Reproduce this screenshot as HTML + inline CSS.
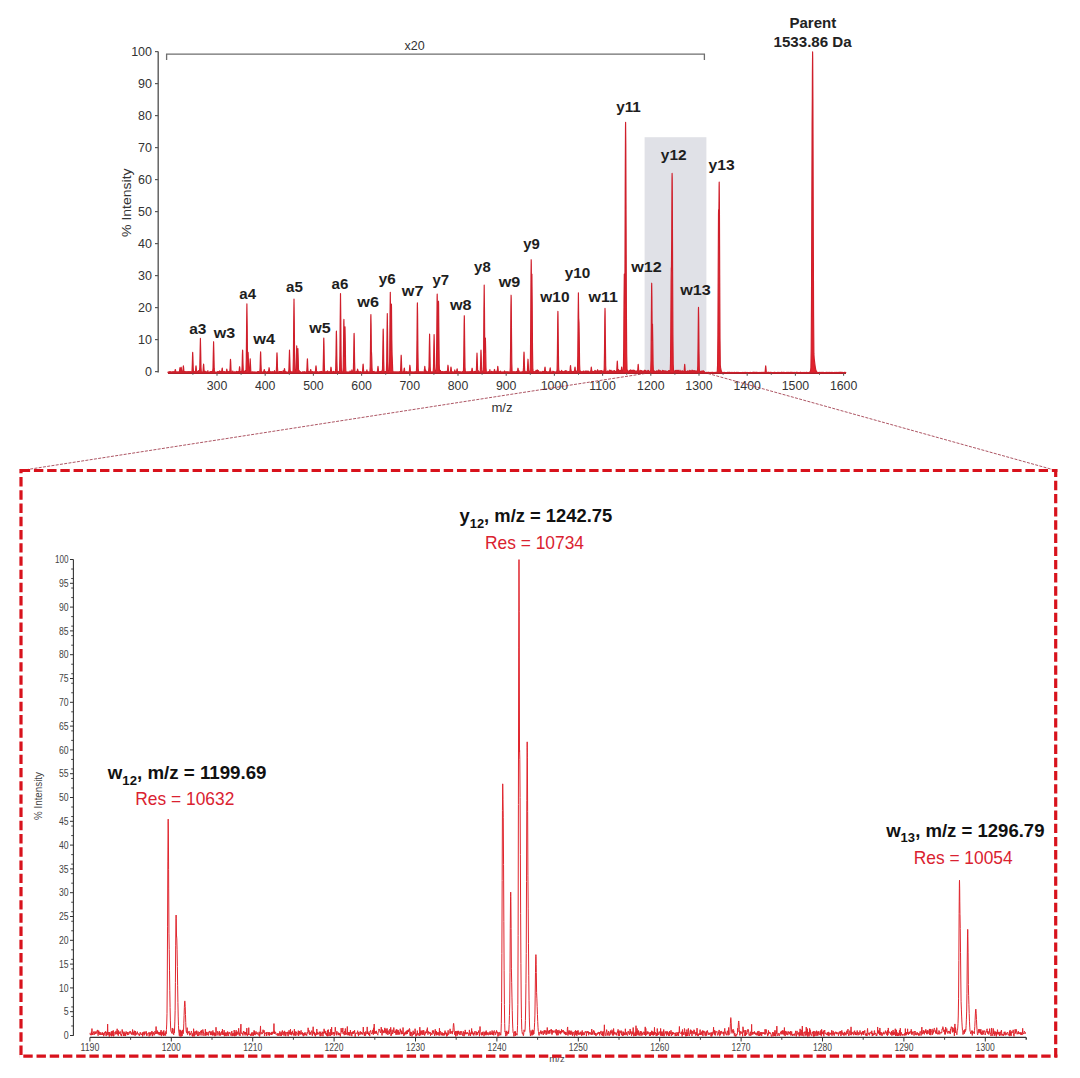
<!DOCTYPE html><html><head><meta charset="utf-8"><style>html,body{margin:0;padding:0;background:#fff;}svg{display:block;}text{font-family:"Liberation Sans",sans-serif;}</style></head><body>
<svg width="1080" height="1078" viewBox="0 0 1080 1078">
<rect width="1080" height="1078" fill="#fff"/>
<rect x="644.6" y="137.2" width="61.8" height="235.3" fill="#e0e1e7"/>
<line x1="158.2" y1="51.5" x2="158.2" y2="372.6" stroke="#5a5a5a" stroke-width="1.4"/>
<line x1="155" y1="371.60" x2="158.2" y2="371.60" stroke="#5a5a5a" stroke-width="1.2"/>
<text x="152" y="375.90" font-size="12.5" fill="#333" text-anchor="end">0</text>
<line x1="155" y1="339.60" x2="158.2" y2="339.60" stroke="#5a5a5a" stroke-width="1.2"/>
<text x="152" y="343.90" font-size="12.5" fill="#333" text-anchor="end">10</text>
<line x1="155" y1="307.60" x2="158.2" y2="307.60" stroke="#5a5a5a" stroke-width="1.2"/>
<text x="152" y="311.90" font-size="12.5" fill="#333" text-anchor="end">20</text>
<line x1="155" y1="275.60" x2="158.2" y2="275.60" stroke="#5a5a5a" stroke-width="1.2"/>
<text x="152" y="279.90" font-size="12.5" fill="#333" text-anchor="end">30</text>
<line x1="155" y1="243.60" x2="158.2" y2="243.60" stroke="#5a5a5a" stroke-width="1.2"/>
<text x="152" y="247.90" font-size="12.5" fill="#333" text-anchor="end">40</text>
<line x1="155" y1="211.60" x2="158.2" y2="211.60" stroke="#5a5a5a" stroke-width="1.2"/>
<text x="152" y="215.90" font-size="12.5" fill="#333" text-anchor="end">50</text>
<line x1="155" y1="179.60" x2="158.2" y2="179.60" stroke="#5a5a5a" stroke-width="1.2"/>
<text x="152" y="183.90" font-size="12.5" fill="#333" text-anchor="end">60</text>
<line x1="155" y1="147.60" x2="158.2" y2="147.60" stroke="#5a5a5a" stroke-width="1.2"/>
<text x="152" y="151.90" font-size="12.5" fill="#333" text-anchor="end">70</text>
<line x1="155" y1="115.60" x2="158.2" y2="115.60" stroke="#5a5a5a" stroke-width="1.2"/>
<text x="152" y="119.90" font-size="12.5" fill="#333" text-anchor="end">80</text>
<line x1="155" y1="83.60" x2="158.2" y2="83.60" stroke="#5a5a5a" stroke-width="1.2"/>
<text x="152" y="87.90" font-size="12.5" fill="#333" text-anchor="end">90</text>
<line x1="155" y1="51.60" x2="158.2" y2="51.60" stroke="#5a5a5a" stroke-width="1.2"/>
<text x="152" y="55.90" font-size="12.5" fill="#333" text-anchor="end">100</text>
<line x1="168" y1="373.3" x2="846" y2="373.3" stroke="#a5202b" stroke-width="1.4"/>
<line x1="192.90" y1="372.5" x2="192.90" y2="374.8" stroke="#5a5a5a" stroke-width="1"/>
<line x1="217.00" y1="372.5" x2="217.00" y2="375.8" stroke="#5a5a5a" stroke-width="1.1"/>
<text x="217.00" y="390" font-size="12.3" fill="#333" text-anchor="middle">300</text>
<line x1="241.10" y1="372.5" x2="241.10" y2="374.8" stroke="#5a5a5a" stroke-width="1"/>
<line x1="265.20" y1="372.5" x2="265.20" y2="375.8" stroke="#5a5a5a" stroke-width="1.1"/>
<text x="265.20" y="390" font-size="12.3" fill="#333" text-anchor="middle">400</text>
<line x1="289.30" y1="372.5" x2="289.30" y2="374.8" stroke="#5a5a5a" stroke-width="1"/>
<line x1="313.40" y1="372.5" x2="313.40" y2="375.8" stroke="#5a5a5a" stroke-width="1.1"/>
<text x="313.40" y="390" font-size="12.3" fill="#333" text-anchor="middle">500</text>
<line x1="337.50" y1="372.5" x2="337.50" y2="374.8" stroke="#5a5a5a" stroke-width="1"/>
<line x1="361.60" y1="372.5" x2="361.60" y2="375.8" stroke="#5a5a5a" stroke-width="1.1"/>
<text x="361.60" y="390" font-size="12.3" fill="#333" text-anchor="middle">600</text>
<line x1="385.70" y1="372.5" x2="385.70" y2="374.8" stroke="#5a5a5a" stroke-width="1"/>
<line x1="409.80" y1="372.5" x2="409.80" y2="375.8" stroke="#5a5a5a" stroke-width="1.1"/>
<text x="409.80" y="390" font-size="12.3" fill="#333" text-anchor="middle">700</text>
<line x1="433.90" y1="372.5" x2="433.90" y2="374.8" stroke="#5a5a5a" stroke-width="1"/>
<line x1="458.00" y1="372.5" x2="458.00" y2="375.8" stroke="#5a5a5a" stroke-width="1.1"/>
<text x="458.00" y="390" font-size="12.3" fill="#333" text-anchor="middle">800</text>
<line x1="482.10" y1="372.5" x2="482.10" y2="374.8" stroke="#5a5a5a" stroke-width="1"/>
<line x1="506.20" y1="372.5" x2="506.20" y2="375.8" stroke="#5a5a5a" stroke-width="1.1"/>
<text x="506.20" y="390" font-size="12.3" fill="#333" text-anchor="middle">900</text>
<line x1="530.30" y1="372.5" x2="530.30" y2="374.8" stroke="#5a5a5a" stroke-width="1"/>
<line x1="554.40" y1="372.5" x2="554.40" y2="375.8" stroke="#5a5a5a" stroke-width="1.1"/>
<text x="554.40" y="390" font-size="12.3" fill="#333" text-anchor="middle">1000</text>
<line x1="578.50" y1="372.5" x2="578.50" y2="374.8" stroke="#5a5a5a" stroke-width="1"/>
<line x1="602.60" y1="372.5" x2="602.60" y2="375.8" stroke="#5a5a5a" stroke-width="1.1"/>
<text x="602.60" y="390" font-size="12.3" fill="#333" text-anchor="middle">1100</text>
<line x1="626.70" y1="372.5" x2="626.70" y2="374.8" stroke="#5a5a5a" stroke-width="1"/>
<line x1="650.80" y1="372.5" x2="650.80" y2="375.8" stroke="#5a5a5a" stroke-width="1.1"/>
<text x="650.80" y="390" font-size="12.3" fill="#333" text-anchor="middle">1200</text>
<line x1="674.90" y1="372.5" x2="674.90" y2="374.8" stroke="#5a5a5a" stroke-width="1"/>
<line x1="699.00" y1="372.5" x2="699.00" y2="375.8" stroke="#5a5a5a" stroke-width="1.1"/>
<text x="699.00" y="390" font-size="12.3" fill="#333" text-anchor="middle">1300</text>
<line x1="723.10" y1="372.5" x2="723.10" y2="374.8" stroke="#5a5a5a" stroke-width="1"/>
<line x1="747.20" y1="372.5" x2="747.20" y2="375.8" stroke="#5a5a5a" stroke-width="1.1"/>
<text x="747.20" y="390" font-size="12.3" fill="#333" text-anchor="middle">1400</text>
<line x1="771.30" y1="372.5" x2="771.30" y2="374.8" stroke="#5a5a5a" stroke-width="1"/>
<line x1="795.40" y1="372.5" x2="795.40" y2="375.8" stroke="#5a5a5a" stroke-width="1.1"/>
<text x="795.40" y="390" font-size="12.3" fill="#333" text-anchor="middle">1500</text>
<line x1="819.50" y1="372.5" x2="819.50" y2="374.8" stroke="#5a5a5a" stroke-width="1"/>
<line x1="843.60" y1="372.5" x2="843.60" y2="375.8" stroke="#5a5a5a" stroke-width="1.1"/>
<text x="843.60" y="390" font-size="12.3" fill="#333" text-anchor="middle">1600</text>
<text x="491.4" y="411.8" font-size="13" fill="#333" textLength="21.2" lengthAdjust="spacingAndGlyphs">m/z</text>
<text transform="translate(131.3 236.9) rotate(-90)" font-size="12" fill="#333" textLength="68.5" lengthAdjust="spacingAndGlyphs">% Intensity</text>
<path d="M166.6 60 L166.6 54.1 L704.4 54.1 L704.4 60" fill="none" stroke="#6e6e6e" stroke-width="1.3"/>
<text x="414.6" y="49.9" font-size="12.5" fill="#333" text-anchor="middle">x20</text>
<line x1="645" y1="373.5" x2="21" y2="470.5" stroke="#9e3848" stroke-width="0.85" stroke-dasharray="3 1.3"/>
<line x1="708" y1="373.5" x2="1056" y2="470.5" stroke="#9e3848" stroke-width="0.85" stroke-dasharray="3 1.3"/>
<path d="M168.00 372.13L168.30 371.88L168.60 372.48L168.90 372.54L169.20 372.20L169.50 371.98L169.80 371.59L170.10 371.50L170.40 372.33L170.70 372.31L171.00 371.87L171.30 372.33L171.60 371.86L171.90 372.14L172.20 371.91L172.50 372.00L172.80 371.85L173.10 371.59L173.40 372.41L173.70 371.98L174.00 371.75L174.30 371.78L174.60 371.66L174.90 371.46L175.20 369.69L175.30 369.50L175.50 370.19L175.80 371.95L176.10 372.49L176.40 372.29L176.70 371.82L177.00 372.07L177.30 371.84L177.60 372.04L177.90 372.08L178.20 372.57L178.50 371.74L178.80 371.94L179.10 371.55L179.40 371.72L179.70 369.80L180.00 367.70L180.30 369.80L180.60 372.02L180.90 369.51L181.20 367.20L181.50 369.51L181.80 371.73L182.10 372.12L182.40 372.32L182.70 371.91L183.00 370.05L183.30 366.20L183.40 365.80L183.60 367.28L183.90 371.13L184.20 372.26L184.50 371.47L184.80 371.93L185.10 371.59L185.40 372.35L185.70 371.86L186.00 371.58L186.30 372.35L186.60 372.05L186.90 371.84L187.20 371.64L187.50 371.79L187.80 372.03L188.10 371.56L188.40 371.79L188.70 372.11L189.00 372.10L189.30 371.68L189.60 371.89L189.90 372.33L190.20 371.51L190.50 371.81L190.80 372.43L191.10 371.92L191.40 371.89L191.70 371.83L192.00 371.36L192.30 364.49L192.60 353.52L192.70 352.40L192.90 356.52L193.20 367.74L193.50 372.07L193.80 371.91L194.10 372.12L194.40 371.56L194.70 372.09L195.00 371.96L195.30 371.61L195.60 370.05L195.90 366.20L196.00 365.80L196.20 367.28L196.50 371.13L196.80 371.75L197.10 372.02L197.40 371.53L197.70 372.41L198.00 372.10L198.30 370.55L198.60 372.02L198.90 372.16L199.20 371.65L199.50 370.07L199.80 367.51L200.10 351.36L200.40 338.40L200.70 351.36L201.00 367.51L201.30 372.05L201.60 372.48L201.90 372.16L202.20 371.98L202.50 372.09L202.80 372.42L203.10 370.72L203.40 365.86L203.60 364.00L203.70 364.51L204.00 369.35L204.30 372.16L204.60 371.69L204.90 371.92L205.20 371.28L205.50 371.90L205.80 372.37L206.10 372.00L206.40 371.78L206.70 372.03L207.00 372.05L207.30 372.19L207.60 371.53L207.90 370.67L208.20 372.00L208.50 372.41L208.80 372.53L209.10 372.36L209.40 372.10L209.70 371.78L210.00 371.96L210.30 371.58L210.60 372.24L210.90 371.60L211.20 372.20L211.50 371.97L211.80 371.74L212.10 371.29L212.40 372.14L212.70 371.60L213.00 368.15L213.30 353.57L213.60 341.70L213.90 353.57L214.20 368.15L214.50 372.21L214.80 371.61L215.10 372.02L215.40 372.19L215.70 372.39L216.00 372.38L216.30 372.20L216.60 372.03L216.90 372.11L217.20 372.41L217.50 371.58L217.80 371.80L218.10 372.23L218.40 371.55L218.70 372.05L219.00 372.15L219.30 371.98L219.60 370.81L219.90 372.20L220.20 372.22L220.50 372.60L220.80 371.38L221.10 371.82L221.40 371.57L221.70 371.63L222.00 369.01L222.20 368.00L222.30 368.28L222.60 370.90L222.90 371.95L223.20 371.47L223.50 371.89L223.80 371.87L224.10 371.70L224.40 372.11L224.70 371.64L225.00 371.97L225.30 372.16L225.60 372.19L225.90 371.71L226.20 372.14L226.50 370.55L226.80 369.00L227.10 370.55L227.40 372.03L227.70 372.51L228.00 371.62L228.30 371.70L228.60 372.38L228.90 371.58L229.20 371.84L229.50 371.87L229.80 371.87L230.10 367.44L230.40 360.06L230.50 359.30L230.70 362.10L231.00 369.57L231.30 372.30L231.60 371.91L231.90 372.49L232.20 372.15L232.50 371.97L232.80 371.04L233.10 371.88L233.40 372.13L233.70 372.02L234.00 372.49L234.30 371.89L234.60 371.77L234.90 372.44L235.20 372.22L235.50 371.84L235.80 372.35L236.10 372.34L236.40 371.42L236.70 372.41L237.00 371.58L237.30 372.13L237.60 371.90L237.90 371.87L238.20 371.49L238.50 372.11L238.80 372.04L239.10 371.34L239.40 367.99L239.60 366.70L239.70 367.05L240.00 370.40L240.30 371.98L240.60 371.78L240.90 372.35L241.20 371.35L241.50 371.79L241.80 371.82L242.10 367.06L242.40 354.56L242.60 350.00L242.70 351.24L243.00 363.41L243.30 371.17L243.60 372.08L243.90 372.32L244.20 371.59L244.50 372.24L244.80 372.32L245.10 370.67L245.40 372.25L245.70 371.70L246.00 370.74L246.30 358.79L246.60 326.60L246.90 303.90L247.20 326.60L247.50 358.79L247.80 360.51L248.10 352.40L248.40 360.51L248.70 370.01L249.00 371.36L249.30 372.02L249.60 370.97L249.90 364.55L250.20 358.90L250.50 364.55L250.80 370.97L251.10 372.00L251.40 372.37L251.70 372.10L252.00 372.38L252.30 371.97L252.60 371.77L252.90 372.35L253.20 371.94L253.50 372.38L253.80 372.11L254.10 372.14L254.40 371.81L254.70 372.18L255.00 372.21L255.30 372.15L255.60 372.00L255.90 372.25L256.20 372.41L256.50 372.16L256.80 372.18L257.10 372.06L257.40 372.42L257.70 371.56L258.00 371.82L258.30 371.54L258.60 371.65L258.90 372.01L259.20 372.04L259.50 372.09L259.80 371.93L260.10 367.60L260.40 356.11L260.60 351.90L260.70 353.04L261.00 364.26L261.30 371.32L261.60 371.94L261.90 371.95L262.20 372.40L262.50 372.15L262.80 371.74L263.10 371.99L263.40 371.76L263.70 371.49L264.00 370.84L264.30 369.50L264.60 370.84L264.90 372.17L265.20 371.71L265.50 371.50L265.80 372.05L266.10 372.11L266.40 372.51L266.70 371.92L267.00 372.44L267.30 371.97L267.60 371.59L267.90 372.40L268.20 371.74L268.50 371.53L268.80 369.80L269.10 367.70L269.40 369.80L269.70 371.77L270.00 372.28L270.30 372.11L270.60 372.08L270.90 371.49L271.20 372.13L271.50 371.99L271.80 372.23L272.10 371.65L272.40 372.19L272.70 371.77L273.00 372.03L273.30 372.29L273.60 371.87L273.90 371.72L274.20 372.02L274.50 370.55L274.80 371.74L275.10 372.06L275.40 371.85L275.70 372.37L276.00 371.97L276.30 371.40L276.60 364.66L276.90 353.90L277.00 352.80L277.20 356.84L277.50 367.85L277.80 371.79L278.10 372.39L278.40 372.38L278.70 371.84L279.00 372.11L279.30 371.61L279.60 371.54L279.90 371.77L280.20 371.55L280.50 372.27L280.80 371.53L281.10 372.13L281.40 371.57L281.70 371.79L282.00 372.26L282.30 372.12L282.60 372.13L282.90 371.76L283.20 370.70L283.50 371.64L283.80 372.02L284.10 371.12L284.40 368.84L284.50 368.60L284.70 369.48L285.00 371.76L285.30 372.21L285.60 372.24L285.90 371.61L286.20 371.94L286.50 371.98L286.80 372.31L287.10 372.44L287.40 372.23L287.70 372.20L288.00 371.92L288.30 372.53L288.60 371.96L288.90 369.62L289.20 358.98L289.50 350.00L289.80 358.98L290.10 369.62L290.40 371.99L290.70 371.98L291.00 371.71L291.30 371.90L291.60 371.94L291.90 372.21L292.20 372.22L292.50 372.01L292.80 372.19L293.10 370.44L293.40 357.25L293.70 322.86L294.00 299.00L294.30 322.86L294.60 357.25L294.90 370.44L295.20 372.01L295.50 371.91L295.80 371.79L296.10 368.92L296.40 356.33L296.70 345.90L297.00 356.33L297.30 368.92L297.60 358.08L297.90 348.60L298.20 358.08L298.50 369.39L298.80 372.03L299.10 370.26L299.40 372.35L299.70 371.94L300.00 372.11L300.30 371.64L300.60 372.11L300.90 372.23L301.20 372.27L301.50 372.36L301.80 372.36L302.10 372.19L302.40 372.39L302.70 371.83L303.00 372.26L303.30 371.82L303.60 372.06L303.90 372.25L304.20 371.83L304.50 371.90L304.80 371.63L305.10 371.91L305.40 372.25L305.70 372.36L306.00 372.10L306.30 372.04L306.60 371.80L306.90 369.47L307.20 361.78L307.40 358.90L307.50 359.69L307.80 367.27L308.10 371.84L308.40 371.64L308.70 371.72L309.00 371.47L309.30 371.64L309.60 371.81L309.90 372.37L310.20 371.95L310.50 370.19L310.70 369.50L310.80 369.69L311.10 371.46L311.40 371.51L311.70 372.41L312.00 371.85L312.30 372.10L312.60 371.49L312.90 372.25L313.20 372.01L313.50 372.38L313.80 371.82L314.10 371.78L314.40 372.16L314.70 371.78L315.00 372.25L315.30 371.90L315.60 370.05L315.90 366.20L316.00 365.80L316.20 367.28L316.50 371.13L316.80 371.82L317.10 371.97L317.40 371.63L317.70 372.04L318.00 371.98L318.30 371.87L318.60 372.05L318.90 372.02L319.20 372.41L319.50 372.23L319.80 371.56L320.10 372.33L320.40 371.60L320.70 371.98L321.00 371.76L321.30 371.58L321.60 371.45L321.90 372.55L322.20 372.27L322.50 371.87L322.80 372.05L323.10 370.00L323.40 357.74L323.70 339.78L323.80 338.00L324.00 344.59L324.30 363.36L324.60 371.42L324.90 371.82L325.20 371.91L325.50 371.78L325.80 371.78L326.10 371.74L326.40 371.77L326.70 371.64L327.00 371.88L327.30 371.83L327.60 370.92L327.90 372.07L328.20 371.89L328.50 371.90L328.80 372.07L329.10 371.57L329.40 372.05L329.70 372.28L330.00 371.82L330.30 371.89L330.60 370.59L330.90 367.52L331.00 367.20L331.20 368.38L331.50 371.45L331.80 372.37L332.10 372.08L332.40 372.38L332.70 371.72L333.00 371.89L333.30 371.40L333.60 371.56L333.90 372.03L334.20 372.18L334.50 371.72L334.80 371.99L335.10 372.39L335.40 371.86L335.70 369.17L336.00 354.19L336.30 333.07L336.40 331.00L336.60 338.67L336.90 360.96L337.20 371.00L337.50 371.64L337.80 372.47L338.10 371.43L338.40 372.47L338.70 371.77L339.00 371.82L339.30 372.36L339.60 370.06L339.90 355.43L340.20 318.61L340.50 293.50L340.80 318.61L341.10 355.43L341.40 370.06L341.70 372.15L342.00 372.47L342.30 372.07L342.60 371.88L342.90 372.13L343.20 367.55L343.50 347.94L343.80 321.90L343.90 319.40L344.10 328.70L344.40 356.60L344.70 343.36L345.00 326.80L345.30 343.36L345.60 364.99L345.90 371.79L346.20 371.99L346.50 372.30L346.80 371.92L347.10 372.35L347.40 372.15L347.70 372.14L348.00 371.88L348.30 372.52L348.60 372.30L348.90 372.06L349.20 372.17L349.50 372.08L349.80 371.79L350.10 370.96L350.40 372.00L350.70 372.40L351.00 371.89L351.30 372.29L351.60 371.75L351.90 369.93L352.20 372.36L352.50 371.87L352.80 371.58L353.10 372.32L353.40 369.46L353.70 355.37L354.00 335.27L354.10 333.30L354.30 340.62L354.60 361.77L354.90 371.15L355.20 371.87L355.50 372.05L355.80 371.88L356.10 372.09L356.40 371.56L356.70 372.32L357.00 371.66L357.30 370.55L357.60 369.00L357.90 370.55L358.20 371.73L358.50 371.37L358.80 371.54L359.10 371.98L359.40 371.86L359.70 372.02L360.00 371.79L360.30 372.30L360.60 371.64L360.90 372.16L361.20 372.36L361.50 372.22L361.80 372.07L362.10 372.01L362.40 372.17L362.70 369.39L363.00 364.60L363.10 364.10L363.30 365.93L363.60 370.74L363.90 372.16L364.20 372.46L364.50 371.82L364.80 372.22L365.10 372.41L365.40 371.85L365.70 372.16L366.00 371.63L366.30 371.99L366.60 371.55L366.90 369.87L367.20 371.77L367.50 371.60L367.80 371.79L368.10 372.03L368.40 372.28L368.70 371.99L369.00 371.77L369.30 372.16L369.60 371.94L369.90 372.07L370.20 366.78L370.50 345.23L370.80 317.26L370.90 314.60L371.10 324.53L371.40 353.52L371.50 352.40L371.70 356.52L372.00 367.74L372.30 371.67L372.60 371.81L372.90 371.63L373.20 372.21L373.50 371.68L373.80 371.62L374.10 371.42L374.40 372.44L374.70 372.03L375.00 372.09L375.30 371.96L375.60 372.26L375.90 372.35L376.20 371.91L376.50 371.97L376.80 372.11L377.10 371.85L377.40 371.91L377.70 368.98L378.00 366.30L378.30 368.98L378.60 371.91L378.90 372.22L379.20 371.70L379.50 372.09L379.80 371.81L380.10 371.51L380.40 372.44L380.70 371.70L381.00 371.87L381.30 371.22L381.60 372.27L381.90 372.24L382.20 371.49L382.50 368.92L382.80 353.14L383.10 331.14L383.20 329.00L383.40 336.96L383.70 360.24L384.00 370.87L384.30 371.84L384.60 372.32L384.90 371.82L385.20 372.23L385.50 371.51L385.80 371.66L386.10 372.49L386.40 371.25L386.70 361.59L387.00 333.77L387.30 313.50L387.60 333.77L387.90 361.59L388.20 371.25L388.50 371.63L388.80 371.96L389.10 372.32L389.40 369.97L389.70 355.02L390.00 317.67L390.30 292.30L390.60 317.67L390.90 350.10L391.20 315.21L391.40 304.00L391.50 306.99L391.80 338.99L392.10 354.70L392.40 361.95L392.70 370.36L393.00 371.87L393.30 372.38L393.60 372.19L393.90 371.94L394.20 371.91L394.50 371.87L394.80 372.18L395.10 371.92L395.40 372.15L395.70 372.01L396.00 371.77L396.30 371.77L396.60 372.37L396.90 372.43L397.20 371.73L397.50 371.91L397.80 372.26L398.10 372.39L398.40 371.94L398.70 372.14L399.00 372.29L399.30 371.69L399.60 371.70L399.90 371.81L400.20 371.91L400.50 371.58L400.80 365.71L401.10 356.18L401.20 355.20L401.40 358.80L401.70 368.51L402.00 371.66L402.30 371.95L402.60 372.06L402.90 372.53L403.20 371.68L403.50 371.98L403.80 371.63L404.10 369.01L404.30 368.00L404.40 368.28L404.70 370.90L405.00 372.20L405.30 371.84L405.60 372.22L405.90 371.93L406.20 371.49L406.50 372.08L406.80 372.36L407.10 371.85L407.40 372.34L407.70 372.44L408.00 371.90L408.30 372.18L408.60 371.90L408.90 372.01L409.20 372.06L409.50 369.82L409.80 365.64L409.90 365.20L410.10 366.81L410.40 371.00L410.70 372.03L411.00 371.87L411.30 372.28L411.60 371.73L411.90 372.21L412.20 371.84L412.50 371.94L412.80 372.16L413.10 372.06L413.40 371.91L413.70 372.29L414.00 372.11L414.30 371.87L414.60 372.45L414.90 371.86L415.20 372.02L415.50 371.90L415.80 371.82L416.10 372.05L416.40 371.77L416.70 364.67L417.00 338.32L417.30 305.92L417.40 302.90L417.60 314.23L417.90 349.60L418.20 368.52L418.50 371.63L418.80 371.99L419.10 372.12L419.40 371.94L419.70 371.99L420.00 371.69L420.30 371.83L420.60 371.76L420.90 372.26L421.20 371.73L421.50 372.51L421.80 371.78L422.10 372.38L422.40 371.87L422.70 372.33L423.00 371.90L423.30 372.23L423.60 372.05L423.90 371.99L424.20 370.88L424.50 368.98L424.80 366.30L425.10 368.98L425.40 371.91L425.70 370.09L426.00 371.78L426.30 371.74L426.60 372.11L426.90 371.55L427.20 371.85L427.50 372.04L427.80 372.10L428.10 372.00L428.40 371.64L428.70 370.53L429.00 366.61L429.30 348.37L429.60 334.00L429.90 348.37L430.20 366.61L430.50 372.02L430.80 372.02L431.10 372.19L431.40 371.81L431.70 372.25L432.00 372.01L432.30 372.18L432.60 371.76L432.90 371.68L433.20 371.87L433.50 366.73L433.80 348.78L434.10 334.60L434.40 348.78L434.70 366.73L435.00 372.03L435.30 372.00L435.60 370.33L435.90 372.06L436.20 371.48L436.50 362.82L436.80 332.80L437.10 297.27L437.20 294.00L437.40 306.30L437.70 345.46L438.00 348.83L438.30 312.72L438.50 301.20L438.60 304.27L438.90 337.28L439.20 364.33L439.50 371.72L439.80 371.84L440.10 372.30L440.40 370.44L440.70 372.11L441.00 372.29L441.30 371.99L441.60 371.53L441.90 371.68L442.20 371.86L442.50 371.53L442.80 372.28L443.10 372.23L443.40 371.92L443.70 371.74L444.00 371.59L444.30 372.38L444.60 371.87L444.90 371.69L445.20 371.92L445.50 371.76L445.80 371.47L446.10 371.92L446.40 371.97L446.70 371.27L447.00 371.98L447.30 372.23L447.60 369.82L447.90 365.64L448.00 365.20L448.20 366.81L448.50 370.52L448.80 372.26L449.10 372.40L449.40 372.40L449.70 372.07L450.00 371.76L450.30 372.33L450.60 370.52L450.90 367.34L451.00 367.00L451.20 368.23L451.50 371.40L451.80 371.73L452.10 371.85L452.40 371.69L452.70 372.17L453.00 372.52L453.30 371.85L453.60 372.06L453.90 372.27L454.20 372.20L454.50 372.15L454.80 369.95L455.10 371.58L455.40 372.39L455.70 371.72L456.00 371.91L456.30 371.90L456.60 371.80L456.90 369.64L457.10 368.80L457.20 369.03L457.50 371.20L457.80 371.94L458.10 372.08L458.40 371.54L458.70 371.98L459.00 371.84L459.30 372.42L459.60 371.69L459.90 372.25L460.20 371.77L460.50 371.90L460.80 371.85L461.10 372.08L461.40 372.13L461.70 372.54L462.00 371.99L462.30 371.71L462.60 371.99L462.90 371.84L463.20 372.04L463.50 369.82L463.80 355.11L464.10 325.49L464.30 315.70L464.40 318.32L464.70 345.86L465.00 366.96L465.30 371.88L465.60 372.17L465.90 371.68L466.20 372.10L466.50 372.02L466.80 371.95L467.10 371.65L467.40 372.36L467.70 372.49L468.00 371.89L468.30 372.39L468.60 372.20L468.90 371.50L469.20 371.46L469.50 372.31L469.80 372.38L470.10 372.33L470.40 371.70L470.70 372.39L471.00 371.44L471.30 372.14L471.60 371.67L471.90 369.17L472.10 368.20L472.20 368.47L472.50 370.97L472.80 372.32L473.10 371.76L473.40 371.99L473.70 372.45L474.00 371.61L474.30 371.97L474.60 371.45L474.90 371.89L475.20 372.25L475.50 371.40L475.80 372.16L476.10 372.02L476.40 370.11L476.70 360.95L477.00 353.10L477.30 360.95L477.60 370.11L477.90 371.47L478.20 370.64L478.50 372.06L478.80 371.93L479.10 372.10L479.40 372.45L479.70 371.69L480.00 372.12L480.30 371.17L480.60 363.46L480.90 351.33L481.00 350.10L481.20 354.64L481.50 367.09L481.80 371.46L482.10 372.42L482.40 371.77L482.70 371.94L483.00 371.97L483.30 369.38L483.60 352.43L483.90 311.92L484.20 285.00L484.50 311.92L484.60 326.99L484.80 352.43L485.10 351.09L485.40 338.00L485.70 351.09L486.00 367.43L486.30 372.12L486.60 372.16L486.90 372.18L487.20 372.08L487.50 372.31L487.80 372.34L488.10 371.70L488.40 372.10L488.70 371.70L489.00 371.82L489.30 371.69L489.60 371.70L489.90 369.57L490.20 372.18L490.50 371.95L490.80 372.40L491.10 372.31L491.40 371.38L491.70 372.19L492.00 371.87L492.30 371.74L492.60 371.64L492.90 372.25L493.20 372.06L493.50 371.72L493.80 371.78L494.10 371.43L494.40 369.59L494.50 369.40L494.70 370.11L495.00 371.84L495.30 372.26L495.60 371.83L495.90 371.69L496.20 371.78L496.50 371.85L496.80 371.87L497.10 370.66L497.40 370.29L497.70 366.77L497.80 366.40L498.00 367.75L498.30 371.27L498.60 371.70L498.90 372.37L499.20 372.50L499.50 371.69L499.80 372.16L500.10 372.07L500.40 371.09L500.70 371.90L501.00 372.02L501.30 372.24L501.60 372.33L501.90 371.82L502.20 371.82L502.50 372.31L502.80 372.02L503.10 372.03L503.40 371.94L503.70 371.82L504.00 372.36L504.30 371.92L504.60 370.84L504.90 372.08L505.20 371.68L505.50 372.30L505.80 371.87L506.10 372.21L506.40 371.91L506.70 372.01L507.00 371.73L507.30 372.10L507.60 371.88L507.90 371.96L508.20 372.46L508.50 372.40L508.80 371.67L509.10 372.22L509.40 372.33L509.70 372.15L510.00 372.10L510.30 367.59L510.60 346.03L510.90 307.37L511.10 295.20L511.20 298.44L511.30 307.37L511.50 333.56L511.80 363.08L512.10 371.53L512.40 372.12L512.70 371.92L513.00 371.79L513.30 371.69L513.60 372.01L513.90 371.76L514.20 372.21L514.50 371.68L514.80 371.92L515.10 371.86L515.40 371.78L515.70 372.13L516.00 372.07L516.30 371.45L516.60 372.06L516.90 371.59L517.20 371.64L517.50 371.62L517.80 369.17L518.00 368.20L518.10 368.47L518.40 370.97L518.70 372.28L519.00 370.80L519.30 372.48L519.60 372.07L519.90 372.51L520.20 371.99L520.50 372.18L520.80 372.36L521.10 371.89L521.40 372.56L521.70 371.94L522.00 372.00L522.30 372.04L522.60 371.71L522.90 371.48L523.20 371.57L523.50 367.63L523.80 356.19L524.00 352.00L524.10 353.14L524.40 364.31L524.70 371.33L525.00 371.81L525.30 371.41L525.60 372.54L525.90 371.98L526.20 372.30L526.50 371.69L526.80 372.46L527.10 371.75L527.40 371.01L527.70 364.73L528.00 359.20L528.30 364.73L528.60 371.01L528.90 372.49L529.20 371.37L529.50 371.78L529.80 371.06L530.10 370.94L530.40 361.65L530.70 327.22L531.00 275.02L531.20 259.70L531.30 263.74L531.60 303.08L531.90 274.00L532.20 303.08L532.50 348.23L532.80 368.35L533.10 370.94L533.40 371.73L533.70 371.88L534.00 372.12L534.30 371.78L534.60 371.69L534.90 371.90L535.20 371.36L535.50 372.25L535.80 371.78L536.10 370.22L536.40 372.37L536.70 371.86L537.00 371.77L537.30 369.76L537.60 371.80L537.90 371.95L538.20 372.31L538.50 370.48L538.80 372.34L539.10 371.83L539.40 372.40L539.70 372.20L540.00 372.48L540.30 371.85L540.60 372.26L540.90 371.94L541.20 372.16L541.50 372.39L541.80 371.91L542.10 371.76L542.40 371.48L542.70 371.88L543.00 371.82L543.30 371.59L543.60 371.45L543.90 372.21L544.20 372.03L544.50 371.40L544.80 368.23L545.00 367.00L545.10 367.34L545.40 370.52L545.70 371.46L546.00 372.41L546.30 372.07L546.60 371.56L546.90 371.84L547.20 371.90L547.50 372.32L547.80 372.30L548.10 371.91L548.40 372.08L548.70 371.75L549.00 372.36L549.30 372.34L549.60 371.46L549.90 369.85L550.20 367.80L550.50 369.85L550.80 371.74L551.10 371.77L551.40 372.42L551.70 371.91L552.00 372.30L552.30 372.47L552.60 372.09L552.90 371.18L553.20 371.47L553.50 371.61L553.80 371.87L554.10 371.51L554.40 372.33L554.70 372.45L555.00 372.19L555.30 372.20L555.60 371.90L555.90 372.17L556.20 371.75L556.50 372.02L556.80 371.41L557.10 369.41L557.40 353.28L557.70 321.64L557.90 311.30L558.00 314.07L558.30 343.32L558.60 366.22L558.90 371.99L559.20 371.21L559.50 371.16L559.80 371.94L560.10 371.59L560.40 371.44L560.70 371.51L561.00 372.24L561.30 371.65L561.60 370.42L561.90 371.72L562.20 371.92L562.50 371.72L562.80 371.42L563.10 371.57L563.40 372.19L563.70 371.79L564.00 372.50L564.30 372.28L564.60 371.06L564.90 371.16L565.20 371.96L565.50 370.65L565.80 372.29L566.10 372.07L566.40 371.40L566.70 370.82L567.00 372.09L567.30 372.45L567.60 371.76L567.90 372.42L568.20 372.28L568.50 371.47L568.80 372.04L569.10 371.59L569.40 371.66L569.70 371.28L570.00 371.07L570.30 367.04L570.50 365.50L570.60 365.92L570.90 369.94L571.20 372.25L571.50 371.16L571.80 371.27L572.10 371.74L572.40 371.66L572.70 371.70L573.00 372.48L573.30 371.33L573.60 372.21L573.90 371.65L574.20 371.23L574.50 371.09L574.80 368.23L575.00 367.00L575.10 367.34L575.40 370.52L575.70 372.33L576.00 372.30L576.30 371.05L576.60 371.87L576.90 371.54L577.20 372.03L577.50 370.00L577.80 355.19L578.10 318.06L578.40 292.80L578.70 318.06L579.00 322.50L579.30 340.31L579.60 363.95L579.90 371.36L580.20 370.49L580.50 372.22L580.80 371.71L581.10 372.11L581.40 372.43L581.70 371.51L582.00 371.64L582.30 372.02L582.60 372.23L582.90 371.97L583.20 371.19L583.50 371.55L583.80 371.01L584.10 372.29L584.40 372.02L584.70 372.31L585.00 371.80L585.30 371.06L585.60 372.06L585.90 371.10L586.20 371.75L586.50 372.09L586.80 371.13L587.10 371.00L587.40 371.23L587.70 371.55L588.00 372.31L588.30 371.01L588.60 371.73L588.90 371.94L589.20 372.13L589.50 371.77L589.80 372.21L590.10 371.71L590.40 371.44L590.70 370.95L591.00 369.39L591.30 367.00L591.60 369.39L591.90 371.71L592.20 371.68L592.50 371.40L592.80 371.75L593.10 372.29L593.40 371.63L593.70 372.11L594.00 371.64L594.30 372.06L594.60 371.29L594.90 370.41L595.20 371.99L595.50 371.33L595.80 370.79L596.10 371.07L596.40 371.61L596.70 372.20L597.00 371.10L597.30 371.86L597.60 369.70L597.90 371.02L598.20 370.71L598.50 371.96L598.80 371.74L599.10 371.97L599.40 370.85L599.70 371.76L600.00 371.05L600.30 371.10L600.60 370.69L600.90 371.37L601.20 370.64L601.50 370.59L601.80 370.89L602.10 372.29L602.40 371.74L602.70 371.01L603.00 372.00L603.30 371.54L603.60 372.39L603.90 371.11L604.20 369.12L604.50 352.04L604.80 319.09L605.00 308.40L605.10 311.26L605.40 341.62L605.70 365.71L606.00 371.49L606.30 371.88L606.60 372.31L606.90 371.62L607.20 371.39L607.50 371.77L607.80 370.93L608.10 371.24L608.40 371.05L608.70 371.88L609.00 371.95L609.30 372.23L609.60 370.19L609.90 370.61L610.20 370.92L610.50 370.76L610.80 370.30L611.10 370.37L611.40 372.01L611.70 371.07L612.00 371.78L612.30 371.26L612.60 371.16L612.90 371.38L613.20 371.26L613.50 371.06L613.80 371.13L614.10 370.56L614.40 370.61L614.70 370.97L615.00 371.97L615.30 371.84L615.60 372.06L615.90 371.22L616.20 372.26L616.50 371.87L616.80 370.02L617.10 363.55L617.30 361.10L617.40 361.77L617.70 368.18L618.00 371.70L618.30 371.11L618.60 369.59L618.90 370.93L619.20 371.52L619.50 371.66L619.80 370.58L620.10 371.60L620.40 370.89L620.70 370.47L621.00 372.29L621.30 370.52L621.60 367.34L621.70 367.00L621.90 368.23L622.20 371.40L622.50 371.86L622.80 371.46L623.10 371.63L623.40 368.37L623.70 348.31L624.00 303.24L624.30 274.20L624.60 303.24L624.90 286.08L625.20 195.66L625.30 166.67L625.50 127.67L625.60 122.30L625.80 143.09L626.10 227.03L626.40 310.10L626.70 354.44L627.00 369.03L627.30 370.53L627.60 371.12L627.90 371.76L628.20 370.95L628.50 370.95L628.80 371.45L629.10 371.58L629.40 370.61L629.70 372.09L630.00 370.77L630.30 369.86L630.60 371.61L630.90 371.50L631.20 370.38L631.50 371.70L631.80 370.68L632.10 370.19L632.40 371.95L632.70 372.09L633.00 371.53L633.30 370.18L633.60 372.28L633.90 371.10L634.20 370.36L634.50 371.82L634.80 370.48L635.10 371.00L635.40 372.01L635.70 371.28L636.00 371.33L636.30 371.46L636.60 370.97L636.90 371.52L637.20 371.35L637.50 370.96L637.80 369.50L638.10 364.88L638.20 364.40L638.40 366.17L638.70 370.54L639.00 371.10L639.30 371.77L639.60 370.91L639.90 372.00L640.20 370.74L640.50 371.03L640.80 370.24L641.10 370.61L641.40 370.54L641.70 372.02L642.00 370.88L642.30 371.39L642.60 371.71L642.90 371.37L643.20 371.57L643.50 371.85L643.80 371.19L644.10 370.40L644.40 371.85L644.70 370.43L645.00 372.33L645.30 372.28L645.60 370.36L645.90 371.54L646.20 370.76L646.50 371.71L646.80 371.98L647.10 372.15L647.40 371.57L647.70 370.74L648.00 370.28L648.30 371.09L648.60 370.66L648.90 371.20L649.20 371.41L649.50 372.53L649.80 372.25L650.10 371.85L650.40 370.46L650.70 370.78L651.00 360.29L651.30 325.81L651.60 286.75L651.70 283.20L651.90 296.56L652.00 310.49L652.20 340.09L652.50 324.00L652.80 341.38L653.10 364.32L653.40 371.57L653.70 371.06L654.00 371.95L654.30 371.61L654.60 370.89L654.90 371.13L655.20 372.23L655.50 372.38L655.80 371.66L656.10 371.40L656.40 371.92L656.70 370.71L657.00 372.25L657.30 370.82L657.60 372.37L657.90 371.60L658.20 371.33L658.50 370.92L658.80 369.81L659.10 371.77L659.40 370.51L659.70 371.98L660.00 371.07L660.30 372.01L660.60 370.63L660.90 371.43L661.20 371.60L661.50 371.60L661.80 372.13L662.10 372.19L662.40 370.29L662.70 371.13L663.00 372.38L663.30 370.93L663.60 370.86L663.90 370.62L664.20 371.14L664.50 371.04L664.80 371.95L665.10 371.18L665.40 370.85L665.70 371.59L666.00 371.19L666.30 371.01L666.60 371.46L666.90 371.72L667.20 371.94L667.50 371.33L667.80 372.22L668.10 372.00L668.40 371.18L668.70 370.51L669.00 371.78L669.30 370.56L669.60 371.65L669.90 371.72L670.20 371.51L670.50 363.22L670.80 331.72L671.10 282.31L671.30 267.60L671.40 271.49L671.70 240.98L672.00 178.49L672.10 173.40L672.20 178.49L672.30 193.01L672.60 268.35L672.90 334.64L673.20 363.93L673.50 370.04L673.80 371.30L674.10 371.44L674.40 371.84L674.70 372.53L675.00 370.89L675.30 370.38L675.60 371.33L675.90 370.62L676.20 370.24L676.50 371.21L676.80 371.46L677.10 371.65L677.40 370.25L677.70 370.40L678.00 371.38L678.30 370.93L678.60 370.32L678.90 371.74L679.20 371.27L679.50 371.35L679.80 372.36L680.10 370.20L680.40 371.67L680.70 372.40L681.00 371.53L681.30 371.56L681.60 371.97L681.90 370.86L682.20 370.70L682.50 371.30L682.80 372.20L683.10 371.22L683.40 371.72L683.70 371.34L684.00 371.76L684.30 369.50L684.60 364.88L684.70 364.40L684.90 366.17L685.20 370.81L685.50 371.44L685.80 371.28L686.10 372.00L686.40 372.15L686.70 371.84L687.00 371.32L687.30 371.85L687.60 370.76L687.90 371.72L688.20 370.93L688.50 371.25L688.80 372.30L689.10 371.92L689.40 371.80L689.70 370.27L690.00 371.45L690.30 370.74L690.60 370.70L690.90 372.50L691.20 371.27L691.50 372.23L691.80 370.59L692.10 370.21L692.40 370.58L692.70 371.12L693.00 371.39L693.30 370.64L693.60 370.72L693.90 372.01L694.20 370.88L694.50 371.07L694.80 370.58L695.10 371.52L695.40 371.11L695.70 371.83L696.00 371.06L696.30 371.23L696.60 371.13L696.90 372.16L697.20 372.18L697.50 371.09L697.80 365.52L698.10 341.03L698.40 310.29L698.50 307.40L698.70 318.21L699.00 351.60L699.30 369.01L699.60 372.14L699.90 372.00L700.20 371.73L700.50 372.09L700.80 371.25L701.10 372.46L701.40 371.79L701.70 371.42L702.00 370.90L702.30 371.08L702.60 371.77L702.90 371.21L703.20 371.49L703.50 370.74L703.80 371.94L704.10 371.53L704.40 371.77L704.70 372.42L705.00 372.57L705.30 372.54L705.60 372.60L705.90 372.52L706.20 372.57L706.50 372.43L706.80 372.40L707.10 372.35L707.40 372.55L707.70 372.59L708.00 372.41L708.30 372.50L708.60 372.37L708.90 372.50L709.20 372.52L709.50 372.58L709.80 372.36L710.10 372.47L710.40 372.49L710.70 372.49L711.00 372.41L711.30 372.39L711.60 372.48L711.90 372.56L712.20 372.50L712.50 372.38L712.80 372.50L713.10 372.43L713.40 372.46L713.70 372.48L714.00 372.46L714.30 372.54L714.60 372.46L714.90 372.38L715.20 372.58L715.50 372.51L715.80 372.38L716.10 372.36L716.40 372.49L716.70 372.34L717.00 372.03L717.30 371.49L717.60 364.24L717.90 334.59L718.20 271.31L718.50 214.47L718.60 209.70L718.80 227.95L719.10 187.03L719.20 182.00L719.40 201.33L719.70 274.90L720.00 338.16L720.30 365.10L720.60 367.68L720.90 369.32L721.20 370.60L721.50 371.49L721.80 372.03L722.10 372.34L722.40 372.49L722.70 372.46L723.00 372.40L723.30 372.57L723.60 372.42L723.90 372.58L724.20 372.37L724.50 372.59L724.80 372.42L725.10 372.51L725.40 372.56L725.70 372.50L726.00 372.47L726.30 372.50L726.60 372.57L726.90 372.47L727.20 372.52L727.50 372.36L727.80 372.50L728.10 372.49L728.40 372.54L728.70 372.36L729.00 372.52L729.30 372.44L729.60 372.39L729.90 372.50L730.20 372.41L730.50 372.53L730.80 372.57L731.10 372.59L731.40 372.49L731.70 372.38L732.00 372.55L732.30 372.49L732.60 372.41L732.90 372.53L733.20 372.56L733.50 372.47L733.80 372.49L734.10 372.37L734.40 372.38L734.70 372.54L735.00 372.46L735.30 372.50L735.60 372.59L735.90 372.49L736.20 372.37L736.50 372.52L736.80 372.45L737.10 372.42L737.40 372.58L737.70 372.37L738.00 372.57L738.30 372.52L738.60 372.42L738.90 372.60L739.20 372.51L739.50 372.57L739.80 372.48L740.10 372.60L740.40 372.56L740.70 372.54L741.00 372.58L741.30 372.58L741.60 372.55L741.90 372.47L742.20 372.57L742.50 372.39L742.80 372.50L743.10 372.54L743.40 372.54L743.70 372.39L744.00 372.59L744.30 372.41L744.60 372.58L744.90 372.36L745.20 372.50L745.50 372.45L745.80 372.38L746.10 372.57L746.40 372.58L746.70 372.43L747.00 372.45L747.30 372.42L747.60 372.53L747.90 372.48L748.20 372.55L748.50 372.49L748.80 372.53L749.10 372.45L749.40 372.53L749.70 372.53L750.00 372.44L750.30 372.58L750.60 372.40L750.90 372.48L751.20 372.54L751.50 372.57L751.80 372.47L752.10 372.47L752.40 372.42L752.70 372.51L753.00 372.50L753.30 372.38L753.60 372.53L753.90 372.35L754.20 372.38L754.50 372.35L754.80 372.36L755.10 372.54L755.40 372.40L755.70 372.45L756.00 372.55L756.30 372.35L756.60 372.44L756.90 372.40L757.20 372.46L757.50 372.58L757.80 372.38L758.10 372.56L758.40 372.54L758.70 372.45L759.00 372.55L759.30 372.48L759.60 372.42L759.90 372.58L760.20 372.43L760.50 372.57L760.80 372.48L761.10 372.44L761.40 372.43L761.70 372.59L762.00 372.55L762.30 372.36L762.60 372.50L762.90 372.49L763.20 372.51L763.50 372.43L763.80 372.41L764.10 372.44L764.40 372.50L764.70 372.46L765.00 372.27L765.30 370.09L765.60 366.30L765.70 365.90L765.90 367.36L766.20 371.16L766.50 372.47L766.80 372.39L767.10 372.54L767.40 372.41L767.70 372.42L768.00 372.37L768.30 372.39L768.60 372.38L768.90 372.53L769.20 372.40L769.50 372.48L769.80 372.52L770.10 372.51L770.40 372.40L770.70 372.39L771.00 372.39L771.30 372.43L771.60 372.56L771.90 372.56L772.20 372.46L772.50 372.55L772.80 372.52L773.10 372.57L773.40 372.56L773.70 372.42L774.00 372.54L774.30 372.39L774.60 372.52L774.90 372.39L775.20 372.52L775.50 372.53L775.80 372.50L776.10 372.60L776.40 372.49L776.70 372.51L777.00 372.60L777.30 372.38L777.60 372.51L777.90 372.60L778.20 372.36L778.50 372.54L778.80 372.54L779.10 372.59L779.40 372.58L779.70 372.42L780.00 372.45L780.30 372.47L780.60 372.54L780.90 372.53L781.20 372.36L781.50 372.51L781.80 372.35L782.10 372.38L782.40 372.57L782.70 372.39L783.00 372.59L783.30 372.42L783.60 372.40L783.90 372.43L784.20 372.46L784.50 372.40L784.80 372.56L785.10 372.47L785.40 372.53L785.70 372.50L786.00 372.55L786.30 372.42L786.60 372.46L786.90 372.41L787.20 372.44L787.50 372.45L787.80 372.37L788.10 372.40L788.40 372.46L788.70 372.52L789.00 372.37L789.30 372.51L789.60 372.57L789.90 372.52L790.20 372.42L790.50 372.37L790.80 372.44L791.10 372.43L791.40 372.37L791.70 372.41L792.00 372.49L792.30 372.48L792.60 372.41L792.90 372.52L793.20 372.57L793.50 372.45L793.80 372.40L794.10 372.54L794.40 372.43L794.70 372.38L795.00 372.57L795.30 372.57L795.60 372.48L795.90 372.52L796.20 372.36L796.50 372.35L796.80 372.49L797.10 372.40L797.40 372.44L797.70 372.56L798.00 372.36L798.30 372.56L798.60 372.58L798.90 372.49L799.20 372.60L799.50 372.48L799.80 372.50L800.10 372.36L800.40 372.50L800.70 372.39L801.00 372.41L801.30 372.45L801.60 372.54L801.90 372.52L802.20 372.48L802.50 372.50L802.80 372.44L803.10 372.47L803.40 372.52L803.70 372.45L804.00 372.35L804.30 372.55L804.60 372.52L804.90 372.60L805.20 372.58L805.50 372.59L805.80 372.49L806.10 372.39L806.40 372.43L806.70 372.36L807.00 372.39L807.30 372.45L807.60 372.45L807.90 372.60L808.20 372.50L808.50 372.53L808.80 372.44L809.10 372.50L809.40 372.40L809.70 372.22L810.00 371.89L810.30 371.36L810.60 370.54L810.90 367.69L811.20 349.89L811.50 299.88L811.80 211.37L812.10 125.06L812.30 98.31L812.40 73.42L812.60 51.90L812.70 57.42L812.90 98.31L813.00 129.71L813.30 235.67L813.60 316.13L813.90 353.89L814.20 358.59L814.50 360.97L814.80 363.45L815.10 365.77L815.40 367.77L815.70 369.36L816.00 370.54L816.30 371.36L816.60 371.89L816.90 372.22L817.20 372.40L817.50 372.37L817.80 372.46L818.10 372.35L818.40 372.59L818.70 372.49L819.00 372.46L819.30 372.42L819.60 372.36L819.90 372.44L820.20 372.48L820.50 372.44L820.80 372.47L821.10 372.42L821.40 372.36L821.70 372.60L822.00 372.52L822.30 372.38L822.60 372.59L822.90 372.40L823.20 372.59L823.50 372.44L823.80 372.40L824.10 372.54L824.40 372.50L824.70 372.54L825.00 372.42L825.30 372.47L825.60 372.45L825.90 372.52L826.20 372.45L826.50 372.36L826.80 372.41L827.10 372.36L827.40 372.54L827.70 372.47L828.00 372.50L828.30 372.51L828.60 372.40L828.90 372.56L829.20 372.46L829.50 372.41L829.80 372.37L830.10 372.60L830.40 372.53L830.70 372.48L831.00 372.37L831.30 372.56L831.60 372.39L831.90 372.50L832.20 372.46L832.50 372.37L832.80 372.58L833.10 372.52L833.40 372.56L833.70 372.57L834.00 372.52L834.30 372.42L834.60 372.45L834.90 372.57L835.20 372.40L835.50 372.47L835.80 372.56L836.10 372.39L836.40 372.39L836.70 372.55L837.00 372.37L837.30 372.40L837.60 372.54L837.90 372.60L838.20 372.38L838.50 372.39L838.80 372.58L839.10 372.41L839.40 372.41L839.70 372.44L840.00 372.39L840.30 372.35L840.60 372.52L840.90 372.39L841.20 372.37L841.50 372.52L841.80 372.43L842.10 372.43L842.40 372.39L842.70 372.46L843.00 372.53L843.30 372.54L843.60 372.46L843.90 372.57L844.20 372.39L844.50 372.38L844.80 372.54L845.10 372.43L845.40 372.43L845.70 372.57L845.8 372.6L168 372.6Z" fill="#e1222c" stroke="#cf1f2b" stroke-width="1.15" stroke-linejoin="round"/>
<text x="189.2" y="334" font-size="14" font-weight="bold" fill="#1e1e1e" textLength="17.2" lengthAdjust="spacingAndGlyphs">a3</text>
<text x="213.8" y="338" font-size="14" font-weight="bold" fill="#1e1e1e" textLength="21.4" lengthAdjust="spacingAndGlyphs">w3</text>
<text x="239.3" y="299" font-size="14" font-weight="bold" fill="#1e1e1e" textLength="16.7" lengthAdjust="spacingAndGlyphs">a4</text>
<text x="253.2" y="344" font-size="14" font-weight="bold" fill="#1e1e1e" textLength="21.8" lengthAdjust="spacingAndGlyphs">w4</text>
<text x="286.0" y="292" font-size="14" font-weight="bold" fill="#1e1e1e" textLength="16.8" lengthAdjust="spacingAndGlyphs">a5</text>
<text x="309.2" y="332.9" font-size="14" font-weight="bold" fill="#1e1e1e" textLength="21.4" lengthAdjust="spacingAndGlyphs">w5</text>
<text x="331.5" y="288.8" font-size="14" font-weight="bold" fill="#1e1e1e" textLength="16.8" lengthAdjust="spacingAndGlyphs">a6</text>
<text x="357.3" y="307.3" font-size="14" font-weight="bold" fill="#1e1e1e" textLength="21.6" lengthAdjust="spacingAndGlyphs">w6</text>
<text x="378.7" y="283.7" font-size="14" font-weight="bold" fill="#1e1e1e" textLength="16.9" lengthAdjust="spacingAndGlyphs">y6</text>
<text x="401.8" y="295.6" font-size="14" font-weight="bold" fill="#1e1e1e" textLength="21.6" lengthAdjust="spacingAndGlyphs">w7</text>
<text x="432.5" y="284.5" font-size="14" font-weight="bold" fill="#1e1e1e" textLength="16.6" lengthAdjust="spacingAndGlyphs">y7</text>
<text x="449.9" y="309.7" font-size="14" font-weight="bold" fill="#1e1e1e" textLength="21.6" lengthAdjust="spacingAndGlyphs">w8</text>
<text x="474.1" y="271.5" font-size="14" font-weight="bold" fill="#1e1e1e" textLength="16.6" lengthAdjust="spacingAndGlyphs">y8</text>
<text x="498.8" y="287.4" font-size="14" font-weight="bold" fill="#1e1e1e" textLength="21.5" lengthAdjust="spacingAndGlyphs">w9</text>
<text x="523.2" y="249" font-size="14" font-weight="bold" fill="#1e1e1e" textLength="16.6" lengthAdjust="spacingAndGlyphs">y9</text>
<text x="540.3" y="302.4" font-size="14" font-weight="bold" fill="#1e1e1e" textLength="29.2" lengthAdjust="spacingAndGlyphs">w10</text>
<text x="564.8" y="278" font-size="14" font-weight="bold" fill="#1e1e1e" textLength="25.5" lengthAdjust="spacingAndGlyphs">y10</text>
<text x="588.5" y="301.7" font-size="14" font-weight="bold" fill="#1e1e1e" textLength="29.3" lengthAdjust="spacingAndGlyphs">w11</text>
<text x="616.2" y="111.5" font-size="14" font-weight="bold" fill="#1e1e1e" textLength="24.7" lengthAdjust="spacingAndGlyphs">y11</text>
<text x="631.2" y="271.6" font-size="14" font-weight="bold" fill="#1e1e1e" textLength="30.6" lengthAdjust="spacingAndGlyphs">w12</text>
<text x="660.8" y="160.3" font-size="14" font-weight="bold" fill="#1e1e1e" textLength="25.8" lengthAdjust="spacingAndGlyphs">y12</text>
<text x="680.2" y="294.5" font-size="14" font-weight="bold" fill="#1e1e1e" textLength="30.6" lengthAdjust="spacingAndGlyphs">w13</text>
<text x="708.5" y="170" font-size="14" font-weight="bold" fill="#1e1e1e" textLength="26.1" lengthAdjust="spacingAndGlyphs">y13</text>
<text x="789.4" y="27.5" font-size="14" font-weight="bold" fill="#222" textLength="46.8" lengthAdjust="spacingAndGlyphs">Parent</text>
<text x="773.5" y="46.9" font-size="14" font-weight="bold" fill="#222" textLength="78.2" lengthAdjust="spacingAndGlyphs">1533.86 Da</text>
<line x1="73.4" y1="559.5" x2="73.4" y2="1035.8" stroke="#333" stroke-width="1.1"/>
<line x1="70" y1="1035.50" x2="73.4" y2="1035.50" stroke="#333" stroke-width="1"/>
<text x="68.6" y="1039.10" font-size="10" fill="#444" text-anchor="end" textLength="4.9" lengthAdjust="spacingAndGlyphs">0</text>
<line x1="71.2" y1="1025.98" x2="73.4" y2="1025.98" stroke="#333" stroke-width="0.9"/>
<line x1="71.2" y1="1016.46" x2="73.4" y2="1016.46" stroke="#333" stroke-width="0.9"/>
<line x1="70" y1="1011.70" x2="73.4" y2="1011.70" stroke="#333" stroke-width="1"/>
<text x="68.6" y="1015.30" font-size="10" fill="#444" text-anchor="end" textLength="4.9" lengthAdjust="spacingAndGlyphs">5</text>
<line x1="71.2" y1="1006.94" x2="73.4" y2="1006.94" stroke="#333" stroke-width="0.9"/>
<line x1="71.2" y1="997.42" x2="73.4" y2="997.42" stroke="#333" stroke-width="0.9"/>
<line x1="70" y1="987.90" x2="73.4" y2="987.90" stroke="#333" stroke-width="1"/>
<text x="68.6" y="991.50" font-size="10" fill="#444" text-anchor="end" textLength="9.6" lengthAdjust="spacingAndGlyphs">10</text>
<line x1="71.2" y1="978.38" x2="73.4" y2="978.38" stroke="#333" stroke-width="0.9"/>
<line x1="71.2" y1="968.86" x2="73.4" y2="968.86" stroke="#333" stroke-width="0.9"/>
<line x1="70" y1="964.10" x2="73.4" y2="964.10" stroke="#333" stroke-width="1"/>
<text x="68.6" y="967.70" font-size="10" fill="#444" text-anchor="end" textLength="9.6" lengthAdjust="spacingAndGlyphs">15</text>
<line x1="71.2" y1="959.34" x2="73.4" y2="959.34" stroke="#333" stroke-width="0.9"/>
<line x1="71.2" y1="949.82" x2="73.4" y2="949.82" stroke="#333" stroke-width="0.9"/>
<line x1="70" y1="940.30" x2="73.4" y2="940.30" stroke="#333" stroke-width="1"/>
<text x="68.6" y="943.90" font-size="10" fill="#444" text-anchor="end" textLength="9.6" lengthAdjust="spacingAndGlyphs">20</text>
<line x1="71.2" y1="930.78" x2="73.4" y2="930.78" stroke="#333" stroke-width="0.9"/>
<line x1="71.2" y1="921.26" x2="73.4" y2="921.26" stroke="#333" stroke-width="0.9"/>
<line x1="70" y1="916.50" x2="73.4" y2="916.50" stroke="#333" stroke-width="1"/>
<text x="68.6" y="920.10" font-size="10" fill="#444" text-anchor="end" textLength="9.6" lengthAdjust="spacingAndGlyphs">25</text>
<line x1="71.2" y1="911.74" x2="73.4" y2="911.74" stroke="#333" stroke-width="0.9"/>
<line x1="71.2" y1="902.22" x2="73.4" y2="902.22" stroke="#333" stroke-width="0.9"/>
<line x1="70" y1="892.70" x2="73.4" y2="892.70" stroke="#333" stroke-width="1"/>
<text x="68.6" y="896.30" font-size="10" fill="#444" text-anchor="end" textLength="9.6" lengthAdjust="spacingAndGlyphs">30</text>
<line x1="71.2" y1="883.18" x2="73.4" y2="883.18" stroke="#333" stroke-width="0.9"/>
<line x1="71.2" y1="873.66" x2="73.4" y2="873.66" stroke="#333" stroke-width="0.9"/>
<line x1="70" y1="868.90" x2="73.4" y2="868.90" stroke="#333" stroke-width="1"/>
<text x="68.6" y="872.50" font-size="10" fill="#444" text-anchor="end" textLength="9.6" lengthAdjust="spacingAndGlyphs">35</text>
<line x1="71.2" y1="864.14" x2="73.4" y2="864.14" stroke="#333" stroke-width="0.9"/>
<line x1="71.2" y1="854.62" x2="73.4" y2="854.62" stroke="#333" stroke-width="0.9"/>
<line x1="70" y1="845.10" x2="73.4" y2="845.10" stroke="#333" stroke-width="1"/>
<text x="68.6" y="848.70" font-size="10" fill="#444" text-anchor="end" textLength="9.6" lengthAdjust="spacingAndGlyphs">40</text>
<line x1="71.2" y1="835.58" x2="73.4" y2="835.58" stroke="#333" stroke-width="0.9"/>
<line x1="71.2" y1="826.06" x2="73.4" y2="826.06" stroke="#333" stroke-width="0.9"/>
<line x1="70" y1="821.30" x2="73.4" y2="821.30" stroke="#333" stroke-width="1"/>
<text x="68.6" y="824.90" font-size="10" fill="#444" text-anchor="end" textLength="9.6" lengthAdjust="spacingAndGlyphs">45</text>
<line x1="71.2" y1="816.54" x2="73.4" y2="816.54" stroke="#333" stroke-width="0.9"/>
<line x1="71.2" y1="807.02" x2="73.4" y2="807.02" stroke="#333" stroke-width="0.9"/>
<line x1="70" y1="797.50" x2="73.4" y2="797.50" stroke="#333" stroke-width="1"/>
<text x="68.6" y="801.10" font-size="10" fill="#444" text-anchor="end" textLength="9.6" lengthAdjust="spacingAndGlyphs">50</text>
<line x1="71.2" y1="787.98" x2="73.4" y2="787.98" stroke="#333" stroke-width="0.9"/>
<line x1="71.2" y1="778.46" x2="73.4" y2="778.46" stroke="#333" stroke-width="0.9"/>
<line x1="70" y1="773.70" x2="73.4" y2="773.70" stroke="#333" stroke-width="1"/>
<text x="68.6" y="777.30" font-size="10" fill="#444" text-anchor="end" textLength="9.6" lengthAdjust="spacingAndGlyphs">55</text>
<line x1="71.2" y1="768.94" x2="73.4" y2="768.94" stroke="#333" stroke-width="0.9"/>
<line x1="71.2" y1="759.42" x2="73.4" y2="759.42" stroke="#333" stroke-width="0.9"/>
<line x1="70" y1="749.90" x2="73.4" y2="749.90" stroke="#333" stroke-width="1"/>
<text x="68.6" y="753.50" font-size="10" fill="#444" text-anchor="end" textLength="9.6" lengthAdjust="spacingAndGlyphs">60</text>
<line x1="71.2" y1="740.38" x2="73.4" y2="740.38" stroke="#333" stroke-width="0.9"/>
<line x1="71.2" y1="730.86" x2="73.4" y2="730.86" stroke="#333" stroke-width="0.9"/>
<line x1="70" y1="726.10" x2="73.4" y2="726.10" stroke="#333" stroke-width="1"/>
<text x="68.6" y="729.70" font-size="10" fill="#444" text-anchor="end" textLength="9.6" lengthAdjust="spacingAndGlyphs">65</text>
<line x1="71.2" y1="721.34" x2="73.4" y2="721.34" stroke="#333" stroke-width="0.9"/>
<line x1="71.2" y1="711.82" x2="73.4" y2="711.82" stroke="#333" stroke-width="0.9"/>
<line x1="70" y1="702.30" x2="73.4" y2="702.30" stroke="#333" stroke-width="1"/>
<text x="68.6" y="705.90" font-size="10" fill="#444" text-anchor="end" textLength="9.6" lengthAdjust="spacingAndGlyphs">70</text>
<line x1="71.2" y1="692.78" x2="73.4" y2="692.78" stroke="#333" stroke-width="0.9"/>
<line x1="71.2" y1="683.26" x2="73.4" y2="683.26" stroke="#333" stroke-width="0.9"/>
<line x1="70" y1="678.50" x2="73.4" y2="678.50" stroke="#333" stroke-width="1"/>
<text x="68.6" y="682.10" font-size="10" fill="#444" text-anchor="end" textLength="9.6" lengthAdjust="spacingAndGlyphs">75</text>
<line x1="71.2" y1="673.74" x2="73.4" y2="673.74" stroke="#333" stroke-width="0.9"/>
<line x1="71.2" y1="664.22" x2="73.4" y2="664.22" stroke="#333" stroke-width="0.9"/>
<line x1="70" y1="654.70" x2="73.4" y2="654.70" stroke="#333" stroke-width="1"/>
<text x="68.6" y="658.30" font-size="10" fill="#444" text-anchor="end" textLength="9.6" lengthAdjust="spacingAndGlyphs">80</text>
<line x1="71.2" y1="645.18" x2="73.4" y2="645.18" stroke="#333" stroke-width="0.9"/>
<line x1="71.2" y1="635.66" x2="73.4" y2="635.66" stroke="#333" stroke-width="0.9"/>
<line x1="70" y1="630.90" x2="73.4" y2="630.90" stroke="#333" stroke-width="1"/>
<text x="68.6" y="634.50" font-size="10" fill="#444" text-anchor="end" textLength="9.6" lengthAdjust="spacingAndGlyphs">85</text>
<line x1="71.2" y1="626.14" x2="73.4" y2="626.14" stroke="#333" stroke-width="0.9"/>
<line x1="71.2" y1="616.62" x2="73.4" y2="616.62" stroke="#333" stroke-width="0.9"/>
<line x1="70" y1="607.10" x2="73.4" y2="607.10" stroke="#333" stroke-width="1"/>
<text x="68.6" y="610.70" font-size="10" fill="#444" text-anchor="end" textLength="9.6" lengthAdjust="spacingAndGlyphs">90</text>
<line x1="71.2" y1="597.58" x2="73.4" y2="597.58" stroke="#333" stroke-width="0.9"/>
<line x1="71.2" y1="588.06" x2="73.4" y2="588.06" stroke="#333" stroke-width="0.9"/>
<line x1="70" y1="583.30" x2="73.4" y2="583.30" stroke="#333" stroke-width="1"/>
<text x="68.6" y="586.90" font-size="10" fill="#444" text-anchor="end" textLength="9.6" lengthAdjust="spacingAndGlyphs">95</text>
<line x1="71.2" y1="578.54" x2="73.4" y2="578.54" stroke="#333" stroke-width="0.9"/>
<line x1="71.2" y1="569.02" x2="73.4" y2="569.02" stroke="#333" stroke-width="0.9"/>
<line x1="70" y1="559.50" x2="73.4" y2="559.50" stroke="#333" stroke-width="1"/>
<text x="68.6" y="563.10" font-size="10" fill="#444" text-anchor="end" textLength="13.5" lengthAdjust="spacingAndGlyphs">100</text>
<line x1="89.9" y1="1037.4" x2="1026" y2="1037.4" stroke="#333" stroke-width="1.1"/>
<line x1="89.90" y1="1037.4" x2="89.90" y2="1041.5" stroke="#333" stroke-width="1"/>
<text x="89.90" y="1051" font-size="10.5" fill="#444" text-anchor="middle" textLength="19" lengthAdjust="spacingAndGlyphs">1190</text>
<line x1="130.60" y1="1037.4" x2="130.60" y2="1039.8" stroke="#333" stroke-width="0.9"/>
<line x1="171.30" y1="1037.4" x2="171.30" y2="1041.5" stroke="#333" stroke-width="1"/>
<text x="171.30" y="1051" font-size="10.5" fill="#444" text-anchor="middle" textLength="19" lengthAdjust="spacingAndGlyphs">1200</text>
<line x1="212.00" y1="1037.4" x2="212.00" y2="1039.8" stroke="#333" stroke-width="0.9"/>
<line x1="252.70" y1="1037.4" x2="252.70" y2="1041.5" stroke="#333" stroke-width="1"/>
<text x="252.70" y="1051" font-size="10.5" fill="#444" text-anchor="middle" textLength="19" lengthAdjust="spacingAndGlyphs">1210</text>
<line x1="293.40" y1="1037.4" x2="293.40" y2="1039.8" stroke="#333" stroke-width="0.9"/>
<line x1="334.10" y1="1037.4" x2="334.10" y2="1041.5" stroke="#333" stroke-width="1"/>
<text x="334.10" y="1051" font-size="10.5" fill="#444" text-anchor="middle" textLength="19" lengthAdjust="spacingAndGlyphs">1220</text>
<line x1="374.80" y1="1037.4" x2="374.80" y2="1039.8" stroke="#333" stroke-width="0.9"/>
<line x1="415.50" y1="1037.4" x2="415.50" y2="1041.5" stroke="#333" stroke-width="1"/>
<text x="415.50" y="1051" font-size="10.5" fill="#444" text-anchor="middle" textLength="19" lengthAdjust="spacingAndGlyphs">1230</text>
<line x1="456.20" y1="1037.4" x2="456.20" y2="1039.8" stroke="#333" stroke-width="0.9"/>
<line x1="496.90" y1="1037.4" x2="496.90" y2="1041.5" stroke="#333" stroke-width="1"/>
<text x="496.90" y="1051" font-size="10.5" fill="#444" text-anchor="middle" textLength="19" lengthAdjust="spacingAndGlyphs">1240</text>
<line x1="537.60" y1="1037.4" x2="537.60" y2="1039.8" stroke="#333" stroke-width="0.9"/>
<line x1="578.30" y1="1037.4" x2="578.30" y2="1041.5" stroke="#333" stroke-width="1"/>
<text x="578.30" y="1051" font-size="10.5" fill="#444" text-anchor="middle" textLength="19" lengthAdjust="spacingAndGlyphs">1250</text>
<line x1="619.00" y1="1037.4" x2="619.00" y2="1039.8" stroke="#333" stroke-width="0.9"/>
<line x1="659.70" y1="1037.4" x2="659.70" y2="1041.5" stroke="#333" stroke-width="1"/>
<text x="659.70" y="1051" font-size="10.5" fill="#444" text-anchor="middle" textLength="19" lengthAdjust="spacingAndGlyphs">1260</text>
<line x1="700.40" y1="1037.4" x2="700.40" y2="1039.8" stroke="#333" stroke-width="0.9"/>
<line x1="741.10" y1="1037.4" x2="741.10" y2="1041.5" stroke="#333" stroke-width="1"/>
<text x="741.10" y="1051" font-size="10.5" fill="#444" text-anchor="middle" textLength="19" lengthAdjust="spacingAndGlyphs">1270</text>
<line x1="781.80" y1="1037.4" x2="781.80" y2="1039.8" stroke="#333" stroke-width="0.9"/>
<line x1="822.50" y1="1037.4" x2="822.50" y2="1041.5" stroke="#333" stroke-width="1"/>
<text x="822.50" y="1051" font-size="10.5" fill="#444" text-anchor="middle" textLength="19" lengthAdjust="spacingAndGlyphs">1280</text>
<line x1="863.20" y1="1037.4" x2="863.20" y2="1039.8" stroke="#333" stroke-width="0.9"/>
<line x1="903.90" y1="1037.4" x2="903.90" y2="1041.5" stroke="#333" stroke-width="1"/>
<text x="903.90" y="1051" font-size="10.5" fill="#444" text-anchor="middle" textLength="19" lengthAdjust="spacingAndGlyphs">1290</text>
<line x1="944.60" y1="1037.4" x2="944.60" y2="1039.8" stroke="#333" stroke-width="0.9"/>
<line x1="985.30" y1="1037.4" x2="985.30" y2="1041.5" stroke="#333" stroke-width="1"/>
<text x="985.30" y="1051" font-size="10.5" fill="#444" text-anchor="middle" textLength="19" lengthAdjust="spacingAndGlyphs">1300</text>
<line x1="1026.00" y1="1037.4" x2="1026.00" y2="1039.8" stroke="#333" stroke-width="0.9"/>
<line x1="1026.5" y1="1037.4" x2="1026.5" y2="1039.5" stroke="#333" stroke-width="0.9"/>
<text x="557" y="1062" font-size="9.5" fill="#444" text-anchor="middle">m/z</text>
<text transform="translate(42.3 796) rotate(-90)" font-size="10.2" fill="#444" text-anchor="middle" textLength="48" lengthAdjust="spacingAndGlyphs">% Intensity</text>
<path d="M90.00 1032.90L90.28 1034.52L90.56 1034.02L90.84 1035.11L91.12 1035.28L91.40 1031.80L91.68 1034.62L91.96 1028.59L92.24 1034.90L92.52 1033.15L92.80 1034.69L93.08 1034.98L93.36 1033.31L93.64 1031.90L93.92 1031.48L94.20 1032.49L94.48 1034.56L94.76 1034.34L95.04 1031.52L95.32 1033.63L95.60 1034.01L95.88 1031.79L96.16 1033.55L96.44 1032.10L96.72 1031.98L97.00 1030.60L97.28 1030.69L97.56 1029.92L97.84 1034.64L98.12 1035.71L98.40 1034.47L98.68 1030.59L98.96 1033.25L99.24 1031.87L99.52 1033.21L99.80 1034.82L100.08 1032.06L100.36 1034.47L100.64 1033.66L100.92 1034.77L101.20 1033.64L101.48 1034.04L101.76 1034.75L102.04 1032.49L102.32 1032.19L102.60 1034.89L102.88 1034.26L103.16 1032.84L103.44 1033.31L103.72 1036.19L104.00 1033.84L104.28 1034.60L104.56 1032.24L104.84 1032.21L105.12 1031.97L105.40 1032.98L105.68 1031.29L105.96 1035.81L106.24 1035.90L106.52 1032.38L106.80 1033.79L107.08 1035.16L107.36 1033.01L107.64 1024.09L107.92 1034.15L108.20 1034.81L108.48 1032.12L108.76 1032.95L109.04 1035.69L109.32 1036.60L109.60 1032.05L109.88 1032.98L110.16 1033.28L110.44 1035.40L110.72 1034.11L111.00 1033.18L111.28 1031.58L111.56 1036.25L111.84 1031.26L112.12 1035.41L112.40 1033.70L112.68 1031.30L112.96 1035.71L113.24 1030.39L113.52 1036.30L113.80 1035.33L114.08 1035.58L114.36 1034.42L114.64 1033.70L114.92 1031.94L115.20 1031.93L115.48 1033.55L115.76 1034.40L116.04 1030.87L116.32 1033.88L116.60 1033.35L116.88 1033.84L117.16 1028.79L117.44 1034.43L117.72 1033.34L118.00 1031.99L118.28 1035.71L118.56 1030.49L118.84 1033.84L119.12 1032.37L119.40 1033.67L119.68 1032.98L119.96 1031.54L120.24 1031.38L120.52 1034.77L120.80 1035.38L121.08 1034.52L121.36 1034.06L121.64 1036.10L121.92 1033.60L122.20 1029.46L122.48 1032.53L122.76 1031.26L123.04 1033.73L123.32 1032.79L123.60 1036.02L123.88 1032.14L124.16 1031.81L124.44 1033.22L124.72 1035.78L125.00 1035.88L125.28 1032.88L125.56 1036.04L125.84 1034.73L126.12 1031.41L126.40 1033.70L126.68 1033.69L126.96 1033.14L127.24 1032.17L127.52 1035.07L127.80 1032.18L128.08 1032.14L128.36 1033.34L128.64 1034.76L128.92 1033.89L129.20 1032.25L129.48 1031.66L129.76 1032.87L130.04 1033.50L130.32 1031.11L130.60 1032.55L130.88 1033.37L131.16 1033.65L131.44 1034.46L131.72 1032.56L132.00 1034.32L132.28 1033.39L132.56 1029.51L132.84 1032.15L133.12 1035.13L133.40 1032.86L133.68 1032.18L133.96 1034.72L134.24 1030.69L134.52 1032.13L134.80 1030.94L135.08 1035.75L135.36 1031.01L135.64 1032.62L135.92 1034.64L136.20 1032.77L136.48 1033.51L136.76 1034.41L137.04 1034.50L137.32 1031.62L137.60 1033.40L137.88 1033.64L138.16 1033.90L138.44 1033.43L138.72 1033.81L139.00 1035.31L139.28 1034.03L139.56 1035.73L139.84 1034.60L140.12 1032.14L140.40 1032.42L140.68 1033.97L140.96 1033.89L141.24 1034.88L141.52 1034.43L141.80 1033.81L142.08 1035.04L142.36 1032.36L142.64 1036.36L142.92 1035.07L143.20 1034.22L143.48 1034.23L143.76 1031.80L144.04 1033.46L144.32 1035.29L144.60 1031.89L144.88 1031.60L145.16 1031.91L145.44 1031.90L145.72 1032.19L146.00 1034.28L146.28 1031.35L146.56 1035.19L146.84 1035.95L147.12 1035.08L147.40 1033.91L147.68 1033.47L147.96 1033.35L148.24 1033.72L148.52 1032.87L148.80 1032.42L149.08 1036.40L149.36 1035.85L149.64 1032.47L149.92 1032.86L150.20 1033.25L150.48 1032.54L150.76 1035.48L151.04 1033.91L151.32 1032.44L151.60 1033.99L151.88 1031.00L152.16 1032.16L152.44 1036.15L152.72 1034.70L153.00 1032.76L153.28 1031.99L153.56 1034.03L153.84 1033.42L154.12 1035.35L154.40 1034.01L154.68 1034.31L154.96 1031.09L155.24 1032.70L155.52 1033.94L155.80 1032.90L156.08 1026.56L156.36 1032.90L156.64 1033.68L156.92 1032.01L157.20 1033.40L157.48 1030.65L157.76 1033.01L158.04 1034.20L158.32 1031.93L158.60 1033.94L158.88 1033.03L159.16 1035.16L159.44 1033.68L159.72 1032.14L160.00 1033.83L160.28 1035.16L160.56 1031.71L160.84 1034.67L161.12 1030.03L161.40 1036.15L161.68 1034.91L161.96 1032.37L162.24 1032.94L162.52 1034.42L162.80 1031.70L163.08 1032.41L163.36 1035.85L163.64 1030.71L163.92 1030.36L164.20 1035.45L164.48 1033.98L164.76 1035.17L165.04 1032.75L165.32 1034.11L165.60 1035.52L165.88 1031.39L166.16 1033.86L166.44 1029.66L166.72 1024.05L167.00 1013.61L167.28 983.00L167.56 926.15L167.84 861.09L168.12 821.43L168.20 819.14L168.40 833.06L168.60 869.70L168.68 888.04L168.96 933.20L169.24 949.63L169.52 970.21L169.80 990.61L170.08 1007.70L170.36 1020.13L170.64 1028.11L170.92 1031.02L171.20 1031.96L171.48 1032.11L171.76 1033.27L172.04 1032.69L172.32 1027.97L172.60 1032.46L172.88 1033.72L173.16 1033.94L173.44 1033.43L173.72 1034.70L174.00 1028.66L174.28 1033.09L174.56 1029.02L174.84 1021.89L175.12 1010.78L175.40 982.57L175.68 945.81L175.96 918.92L176.10 915.04L176.24 918.92L176.52 936.90L176.60 936.51L176.80 938.95L177.08 949.79L177.36 966.56L177.64 985.31L177.92 1002.52L178.20 1016.07L178.48 1025.39L178.76 1031.08L179.04 1033.18L179.32 1035.66L179.60 1032.57L179.88 1029.72L180.16 1036.57L180.44 1033.14L180.72 1030.11L181.00 1032.99L181.28 1036.44L181.56 1031.35L181.84 1032.99L182.12 1035.99L182.40 1033.62L182.68 1029.88L182.96 1032.23L183.24 1033.71L183.52 1029.98L183.80 1023.80L184.08 1015.62L184.36 1007.33L184.64 1001.84L184.80 1000.92L184.92 1001.44L185.20 1006.31L185.48 1014.38L185.76 1022.73L186.04 1029.25L186.32 1032.01L186.60 1032.16L186.88 1033.14L187.16 1027.67L187.44 1034.72L187.72 1034.32L188.00 1033.49L188.28 1031.66L188.56 1032.73L188.84 1032.58L189.12 1031.18L189.40 1032.82L189.68 1035.38L189.96 1033.47L190.24 1034.83L190.52 1033.16L190.80 1032.92L191.08 1032.83L191.36 1031.08L191.64 1032.35L191.92 1034.60L192.20 1035.93L192.48 1033.55L192.76 1036.50L193.04 1034.94L193.32 1035.51L193.60 1028.72L193.88 1032.54L194.16 1036.42L194.44 1033.22L194.72 1031.65L195.00 1035.19L195.28 1033.12L195.56 1031.99L195.84 1031.19L196.12 1031.27L196.40 1034.40L196.68 1030.68L196.96 1032.36L197.24 1034.09L197.52 1036.03L197.80 1034.71L198.08 1031.50L198.36 1035.39L198.64 1035.90L198.92 1034.44L199.20 1033.01L199.48 1031.98L199.76 1033.74L200.04 1035.32L200.32 1032.75L200.60 1032.35L200.88 1030.86L201.16 1033.29L201.44 1030.37L201.72 1033.75L202.00 1035.49L202.28 1033.66L202.56 1032.93L202.84 1029.51L203.12 1030.84L203.40 1031.33L203.68 1034.09L203.96 1035.85L204.24 1033.88L204.52 1033.79L204.80 1033.67L205.08 1033.95L205.36 1029.15L205.64 1035.68L205.92 1032.56L206.20 1032.05L206.48 1031.94L206.76 1035.28L207.04 1033.89L207.32 1034.79L207.60 1034.42L207.88 1032.09L208.16 1032.13L208.44 1035.47L208.72 1034.57L209.00 1032.04L209.28 1031.30L209.56 1030.95L209.84 1032.50L210.12 1031.60L210.40 1031.99L210.68 1035.10L210.96 1032.29L211.24 1031.40L211.52 1031.71L211.80 1034.86L212.08 1033.23L212.36 1035.40L212.64 1033.45L212.92 1030.41L213.20 1035.39L213.48 1032.49L213.76 1032.95L214.04 1034.54L214.32 1032.55L214.60 1035.20L214.88 1036.24L215.16 1034.44L215.44 1033.23L215.72 1035.76L216.00 1027.24L216.28 1032.76L216.56 1033.07L216.84 1033.21L217.12 1035.34L217.40 1032.01L217.68 1031.28L217.96 1033.07L218.24 1033.37L218.52 1033.37L218.80 1032.65L219.08 1035.50L219.36 1031.15L219.64 1032.79L219.92 1035.38L220.20 1033.33L220.48 1035.41L220.76 1035.16L221.04 1032.31L221.32 1033.21L221.60 1031.96L221.88 1031.29L222.16 1034.97L222.44 1029.10L222.72 1033.48L223.00 1032.56L223.28 1034.07L223.56 1033.14L223.84 1035.04L224.12 1030.18L224.40 1036.20L224.68 1033.43L224.96 1034.41L225.24 1032.49L225.52 1033.38L225.80 1036.05L226.08 1032.76L226.36 1033.88L226.64 1032.69L226.92 1036.07L227.20 1034.79L227.48 1031.50L227.76 1034.49L228.04 1033.39L228.32 1034.38L228.60 1035.82L228.88 1031.91L229.16 1032.31L229.44 1033.60L229.72 1032.55L230.00 1033.08L230.28 1032.78L230.56 1033.50L230.84 1035.48L231.12 1035.67L231.40 1033.69L231.68 1031.08L231.96 1031.36L232.24 1036.12L232.52 1033.55L232.80 1033.66L233.08 1033.06L233.36 1034.61L233.64 1033.67L233.92 1035.97L234.20 1030.05L234.48 1033.91L234.76 1036.27L235.04 1032.13L235.32 1035.68L235.60 1035.26L235.88 1032.22L236.16 1030.23L236.44 1035.51L236.72 1032.19L237.00 1034.84L237.28 1032.20L237.56 1031.72L237.84 1032.78L238.12 1034.29L238.40 1032.19L238.68 1028.30L238.96 1032.22L239.24 1035.39L239.52 1032.78L239.80 1034.46L240.08 1035.93L240.36 1032.00L240.64 1029.14L240.92 1024.13L241.20 1032.81L241.48 1033.51L241.76 1032.57L242.04 1033.62L242.32 1034.10L242.60 1033.39L242.88 1035.54L243.16 1033.03L243.44 1031.07L243.72 1031.97L244.00 1033.24L244.28 1031.74L244.56 1034.09L244.84 1033.28L245.12 1035.45L245.40 1031.99L245.68 1034.04L245.96 1033.54L246.24 1032.11L246.52 1034.63L246.80 1028.13L247.08 1034.87L247.36 1036.10L247.64 1034.25L247.92 1033.67L248.20 1034.83L248.48 1034.83L248.76 1027.66L249.04 1034.14L249.32 1034.82L249.60 1034.83L249.88 1034.30L250.16 1033.83L250.44 1034.61L250.72 1035.73L251.00 1034.46L251.28 1035.62L251.56 1032.85L251.84 1034.90L252.12 1032.28L252.40 1033.75L252.68 1034.39L252.96 1035.94L253.24 1032.66L253.52 1035.40L253.80 1033.79L254.08 1030.32L254.36 1034.55L254.64 1031.12L254.92 1033.55L255.20 1035.13L255.48 1032.47L255.76 1032.30L256.04 1031.43L256.32 1032.77L256.60 1034.14L256.88 1032.77L257.16 1032.33L257.44 1033.34L257.72 1034.35L258.00 1033.45L258.28 1034.36L258.56 1035.34L258.84 1034.36L259.12 1031.84L259.40 1033.22L259.68 1036.48L259.96 1033.70L260.24 1030.95L260.52 1025.95L260.80 1034.27L261.08 1034.27L261.36 1033.46L261.64 1032.80L261.92 1032.18L262.20 1034.09L262.48 1033.15L262.76 1032.60L263.04 1029.72L263.32 1032.41L263.60 1032.47L263.88 1031.85L264.16 1030.39L264.44 1036.04L264.72 1035.67L265.00 1032.71L265.28 1033.59L265.56 1033.54L265.84 1033.05L266.12 1032.60L266.40 1032.18L266.68 1035.98L266.96 1032.20L267.24 1032.48L267.52 1032.39L267.80 1032.41L268.08 1034.53L268.36 1034.80L268.64 1032.36L268.92 1035.30L269.20 1032.50L269.48 1035.56L269.76 1032.42L270.04 1033.23L270.32 1034.24L270.60 1033.26L270.88 1034.04L271.16 1034.89L271.44 1032.53L271.72 1034.98L272.00 1031.88L272.28 1034.11L272.56 1034.09L272.84 1031.87L273.12 1032.81L273.40 1032.56L273.68 1033.26L273.96 1023.58L274.24 1033.82L274.52 1030.83L274.80 1033.92L275.08 1032.67L275.36 1031.92L275.64 1032.04L275.92 1033.81L276.20 1034.89L276.48 1035.06L276.76 1034.76L277.04 1033.80L277.32 1034.21L277.60 1033.41L277.88 1035.85L278.16 1033.99L278.44 1033.50L278.72 1035.45L279.00 1035.46L279.28 1034.76L279.56 1032.67L279.84 1031.42L280.12 1036.04L280.40 1033.98L280.68 1033.01L280.96 1032.23L281.24 1032.13L281.52 1035.91L281.80 1032.82L282.08 1031.35L282.36 1030.48L282.64 1032.53L282.92 1034.90L283.20 1031.82L283.48 1032.87L283.76 1032.39L284.04 1035.71L284.32 1031.04L284.60 1030.86L284.88 1034.49L285.16 1031.91L285.44 1033.52L285.72 1036.15L286.00 1033.84L286.28 1033.01L286.56 1032.31L286.84 1033.03L287.12 1034.42L287.40 1033.39L287.68 1031.83L287.96 1036.06L288.24 1036.11L288.52 1032.12L288.80 1031.43L289.08 1030.25L289.36 1034.09L289.64 1031.99L289.92 1031.97L290.20 1034.82L290.48 1029.13L290.76 1033.72L291.04 1033.48L291.32 1032.26L291.60 1035.22L291.88 1032.00L292.16 1033.10L292.44 1030.85L292.72 1033.75L293.00 1033.15L293.28 1035.24L293.56 1035.40L293.84 1032.82L294.12 1032.63L294.40 1029.15L294.68 1035.25L294.96 1032.77L295.24 1035.88L295.52 1033.49L295.80 1031.40L296.08 1033.26L296.36 1032.88L296.64 1032.02L296.92 1035.34L297.20 1034.29L297.48 1033.39L297.76 1033.04L298.04 1033.61L298.32 1030.63L298.60 1035.95L298.88 1034.43L299.16 1031.08L299.44 1034.18L299.72 1031.27L300.00 1033.45L300.28 1034.55L300.56 1034.03L300.84 1031.57L301.12 1030.32L301.40 1034.13L301.68 1033.37L301.96 1034.30L302.24 1032.96L302.52 1032.38L302.80 1035.28L303.08 1033.11L303.36 1036.21L303.64 1034.82L303.92 1034.40L304.20 1032.95L304.48 1034.14L304.76 1035.48L305.04 1032.29L305.32 1035.03L305.60 1034.79L305.88 1033.72L306.16 1034.65L306.44 1034.26L306.72 1035.65L307.00 1032.70L307.28 1032.11L307.56 1032.91L307.84 1033.49L308.12 1027.79L308.40 1031.70L308.68 1031.40L308.96 1030.16L309.24 1033.45L309.52 1034.73L309.80 1031.67L310.08 1031.85L310.36 1032.14L310.64 1034.35L310.92 1034.73L311.20 1032.04L311.48 1031.86L311.76 1030.63L312.04 1031.02L312.32 1035.75L312.60 1033.70L312.88 1031.56L313.16 1026.75L313.44 1033.17L313.72 1032.21L314.00 1034.22L314.28 1031.87L314.56 1035.24L314.84 1032.83L315.12 1032.96L315.40 1036.33L315.68 1035.13L315.96 1033.74L316.24 1033.75L316.52 1034.76L316.80 1028.99L317.08 1033.00L317.36 1032.25L317.64 1034.50L317.92 1032.77L318.20 1033.75L318.48 1033.09L318.76 1034.22L319.04 1032.54L319.32 1031.67L319.60 1033.13L319.88 1035.03L320.16 1036.23L320.44 1032.03L320.72 1031.68L321.00 1036.07L321.28 1033.65L321.56 1033.66L321.84 1032.92L322.12 1034.16L322.40 1031.75L322.68 1033.44L322.96 1036.22L323.24 1034.33L323.52 1032.11L323.80 1033.15L324.08 1028.83L324.36 1033.09L324.64 1030.48L324.92 1031.94L325.20 1033.59L325.48 1034.19L325.76 1031.21L326.04 1034.82L326.32 1035.00L326.60 1033.05L326.88 1035.76L327.16 1033.28L327.44 1036.29L327.72 1030.14L328.00 1032.37L328.28 1029.59L328.56 1031.70L328.84 1036.10L329.12 1035.33L329.40 1032.41L329.68 1032.88L329.96 1034.72L330.24 1036.03L330.52 1034.80L330.80 1029.13L331.08 1032.94L331.36 1035.09L331.64 1027.10L331.92 1035.07L332.20 1033.48L332.48 1032.91L332.76 1033.46L333.04 1032.02L333.32 1032.97L333.60 1034.13L333.88 1032.22L334.16 1035.82L334.44 1034.69L334.72 1032.15L335.00 1031.89L335.28 1027.19L335.56 1030.84L335.84 1030.86L336.12 1034.46L336.40 1032.75L336.68 1035.31L336.96 1031.27L337.24 1033.38L337.52 1033.45L337.80 1033.73L338.08 1033.91L338.36 1035.12L338.64 1032.57L338.92 1034.25L339.20 1034.55L339.48 1033.16L339.76 1035.14L340.04 1033.51L340.32 1036.46L340.60 1034.16L340.88 1033.99L341.16 1028.12L341.44 1032.18L341.72 1031.89L342.00 1030.90L342.28 1031.05L342.56 1032.28L342.84 1027.96L343.12 1033.91L343.40 1032.29L343.68 1032.67L343.96 1033.85L344.24 1035.21L344.52 1034.84L344.80 1031.00L345.08 1032.89L345.36 1028.52L345.64 1034.48L345.92 1034.97L346.20 1033.49L346.48 1032.94L346.76 1034.16L347.04 1031.07L347.32 1026.52L347.60 1033.34L347.88 1035.26L348.16 1032.97L348.44 1035.10L348.72 1032.06L349.00 1034.04L349.28 1035.01L349.56 1032.35L349.84 1035.80L350.12 1034.08L350.40 1030.19L350.68 1033.11L350.96 1032.09L351.24 1034.29L351.52 1033.50L351.80 1036.15L352.08 1033.06L352.36 1032.09L352.64 1034.00L352.92 1033.13L353.20 1031.03L353.48 1032.85L353.76 1033.83L354.04 1032.11L354.32 1032.65L354.60 1030.23L354.88 1033.48L355.16 1036.63L355.44 1035.11L355.72 1033.06L356.00 1033.13L356.28 1033.21L356.56 1033.69L356.84 1033.19L357.12 1032.32L357.40 1031.87L357.68 1030.70L357.96 1034.35L358.24 1032.50L358.52 1036.09L358.80 1032.20L359.08 1033.26L359.36 1034.67L359.64 1033.78L359.92 1033.46L360.20 1031.21L360.48 1031.65L360.76 1034.57L361.04 1034.08L361.32 1034.02L361.60 1031.97L361.88 1033.53L362.16 1032.96L362.44 1033.17L362.72 1034.60L363.00 1032.57L363.28 1027.03L363.56 1031.90L363.84 1033.17L364.12 1033.04L364.40 1035.70L364.68 1032.34L364.96 1034.74L365.24 1035.84L365.52 1035.07L365.80 1031.38L366.08 1032.75L366.36 1033.62L366.64 1034.08L366.92 1033.82L367.20 1026.91L367.48 1033.85L367.76 1031.38L368.04 1031.93L368.32 1032.71L368.60 1034.88L368.88 1032.72L369.16 1035.09L369.44 1033.17L369.72 1036.12L370.00 1031.07L370.28 1031.47L370.56 1030.38L370.84 1030.85L371.12 1032.86L371.40 1033.13L371.68 1034.09L371.96 1033.00L372.24 1033.20L372.52 1033.13L372.80 1029.86L373.08 1031.56L373.36 1034.80L373.64 1027.81L373.92 1032.00L374.20 1024.09L374.48 1031.94L374.76 1033.84L375.04 1031.75L375.32 1032.38L375.60 1033.16L375.88 1031.04L376.16 1033.68L376.44 1030.86L376.72 1033.06L377.00 1033.53L377.28 1034.07L377.56 1034.60L377.84 1035.17L378.12 1032.26L378.40 1032.28L378.68 1031.96L378.96 1028.95L379.24 1029.87L379.52 1029.38L379.80 1030.85L380.08 1030.78L380.36 1032.99L380.64 1032.03L380.92 1031.95L381.20 1027.13L381.48 1029.03L381.76 1031.07L382.04 1035.42L382.32 1029.57L382.60 1031.42L382.88 1031.98L383.16 1033.15L383.44 1030.70L383.72 1032.16L384.00 1032.75L384.28 1032.51L384.56 1029.97L384.84 1027.89L385.12 1033.08L385.40 1032.45L385.68 1030.37L385.96 1028.83L386.24 1034.16L386.52 1033.63L386.80 1029.57L387.08 1028.40L387.36 1030.27L387.64 1033.27L387.92 1034.91L388.20 1030.56L388.48 1031.49L388.76 1031.88L389.04 1033.70L389.32 1032.23L389.60 1034.05L389.88 1029.04L390.16 1032.01L390.44 1031.90L390.72 1027.32L391.00 1035.94L391.28 1033.52L391.56 1035.08L391.84 1031.66L392.12 1029.75L392.40 1032.32L392.68 1034.02L392.96 1031.98L393.24 1032.18L393.52 1032.09L393.80 1027.55L394.08 1031.23L394.36 1031.41L394.64 1033.00L394.92 1032.69L395.20 1032.77L395.48 1030.67L395.76 1033.76L396.04 1034.79L396.32 1029.34L396.60 1031.09L396.88 1034.47L397.16 1029.68L397.44 1032.69L397.72 1032.39L398.00 1034.73L398.28 1030.21L398.56 1033.33L398.84 1034.27L399.12 1032.57L399.40 1032.22L399.68 1034.43L399.96 1032.38L400.24 1028.77L400.52 1031.40L400.80 1030.01L401.08 1032.49L401.36 1034.20L401.64 1031.11L401.92 1033.51L402.20 1032.46L402.48 1033.98L402.76 1033.81L403.04 1027.50L403.32 1032.22L403.60 1032.67L403.88 1036.02L404.16 1033.09L404.44 1032.97L404.72 1034.97L405.00 1032.37L405.28 1033.73L405.56 1031.71L405.84 1032.26L406.12 1034.34L406.40 1031.08L406.68 1033.99L406.96 1031.36L407.24 1030.14L407.52 1033.77L407.80 1030.78L408.08 1031.99L408.36 1029.67L408.64 1031.82L408.92 1031.13L409.20 1030.78L409.48 1028.45L409.76 1029.46L410.04 1035.50L410.32 1031.83L410.60 1035.85L410.88 1034.70L411.16 1031.93L411.44 1033.92L411.72 1032.59L412.00 1036.40L412.28 1034.33L412.56 1034.65L412.84 1034.93L413.12 1030.75L413.40 1034.65L413.68 1032.93L413.96 1032.59L414.24 1031.98L414.52 1034.10L414.80 1033.88L415.08 1028.73L415.36 1032.27L415.64 1033.24L415.92 1036.42L416.20 1033.63L416.48 1034.24L416.76 1035.54L417.04 1034.42L417.32 1030.65L417.60 1034.43L417.88 1034.53L418.16 1034.91L418.44 1033.59L418.72 1033.27L419.00 1034.68L419.28 1036.01L419.56 1031.52L419.84 1027.17L420.12 1033.64L420.40 1031.81L420.68 1035.32L420.96 1030.49L421.24 1033.89L421.52 1032.89L421.80 1030.94L422.08 1034.99L422.36 1034.70L422.64 1034.52L422.92 1030.29L423.20 1034.76L423.48 1031.63L423.76 1030.21L424.04 1032.09L424.32 1033.40L424.60 1035.59L424.88 1035.19L425.16 1031.57L425.44 1033.65L425.72 1033.64L426.00 1031.87L426.28 1032.34L426.56 1033.02L426.84 1029.69L427.12 1030.44L427.40 1027.64L427.68 1032.09L427.96 1034.66L428.24 1031.36L428.52 1032.85L428.80 1031.76L429.08 1032.40L429.36 1033.61L429.64 1032.29L429.92 1033.13L430.20 1032.12L430.48 1035.77L430.76 1034.08L431.04 1033.14L431.32 1033.42L431.60 1033.08L431.88 1034.91L432.16 1033.62L432.44 1030.53L432.72 1032.12L433.00 1033.19L433.28 1033.44L433.56 1030.53L433.84 1031.34L434.12 1034.15L434.40 1033.94L434.68 1035.92L434.96 1034.62L435.24 1029.29L435.52 1034.26L435.80 1031.57L436.08 1033.26L436.36 1030.98L436.64 1035.28L436.92 1033.76L437.20 1034.74L437.48 1032.41L437.76 1032.98L438.04 1034.50L438.32 1032.49L438.60 1034.38L438.88 1032.62L439.16 1035.72L439.44 1028.22L439.72 1032.76L440.00 1034.30L440.28 1032.55L440.56 1031.27L440.84 1032.46L441.12 1035.28L441.40 1033.96L441.68 1035.03L441.96 1032.20L442.24 1035.21L442.52 1033.06L442.80 1035.44L443.08 1033.19L443.36 1034.17L443.64 1033.62L443.92 1035.60L444.20 1033.39L444.48 1032.64L444.76 1035.10L445.04 1030.61L445.32 1033.52L445.60 1034.04L445.88 1032.29L446.16 1033.77L446.44 1033.05L446.72 1036.45L447.00 1033.37L447.28 1034.22L447.56 1035.60L447.84 1033.28L448.12 1030.34L448.40 1034.16L448.68 1034.68L448.96 1033.57L449.24 1032.77L449.52 1033.13L449.80 1032.94L450.08 1028.83L450.36 1032.71L450.64 1033.67L450.92 1031.36L451.20 1031.08L451.48 1032.86L451.76 1032.63L452.04 1032.49L452.32 1034.14L452.60 1031.25L452.88 1031.96L453.16 1027.63L453.44 1024.01L453.60 1023.34L453.72 1023.72L454.00 1027.00L454.28 1031.40L454.56 1034.59L454.84 1034.89L455.12 1032.28L455.40 1031.09L455.68 1036.49L455.96 1033.09L456.24 1032.09L456.52 1031.35L456.80 1034.62L457.08 1035.75L457.36 1030.92L457.64 1034.82L457.92 1032.77L458.20 1032.14L458.48 1030.85L458.76 1034.03L459.04 1032.08L459.32 1032.94L459.60 1033.50L459.88 1035.08L460.16 1031.18L460.44 1032.99L460.72 1033.45L461.00 1034.78L461.28 1031.24L461.56 1032.60L461.84 1032.55L462.12 1032.84L462.40 1034.95L462.68 1034.97L462.96 1035.85L463.24 1031.32L463.52 1033.23L463.80 1032.07L464.08 1036.22L464.36 1033.46L464.64 1032.33L464.92 1034.52L465.20 1029.90L465.48 1032.01L465.76 1033.92L466.04 1032.63L466.32 1034.18L466.60 1032.78L466.88 1033.56L467.16 1032.96L467.44 1032.27L467.72 1033.94L468.00 1034.06L468.28 1033.99L468.56 1033.52L468.84 1035.81L469.12 1033.31L469.40 1029.90L469.68 1032.29L469.96 1034.64L470.24 1032.60L470.52 1036.00L470.80 1033.04L471.08 1034.14L471.36 1033.38L471.64 1028.49L471.92 1033.45L472.20 1034.06L472.48 1031.61L472.76 1032.72L473.04 1034.45L473.32 1035.22L473.60 1033.25L473.88 1035.45L474.16 1032.44L474.44 1033.92L474.72 1032.33L475.00 1031.03L475.28 1031.83L475.56 1032.25L475.84 1032.64L476.12 1035.34L476.40 1031.65L476.68 1034.37L476.96 1032.52L477.24 1034.98L477.52 1034.67L477.80 1032.18L478.08 1033.10L478.36 1032.62L478.64 1030.63L478.92 1032.69L479.20 1033.18L479.48 1036.21L479.76 1031.16L480.04 1026.53L480.32 1031.75L480.60 1032.07L480.88 1032.46L481.16 1034.68L481.44 1033.20L481.72 1035.34L482.00 1032.37L482.28 1032.00L482.56 1035.05L482.84 1031.80L483.12 1031.60L483.40 1031.81L483.68 1032.66L483.96 1036.26L484.24 1035.22L484.52 1032.29L484.80 1031.77L485.08 1034.85L485.36 1032.96L485.64 1031.82L485.92 1035.24L486.20 1030.60L486.48 1034.08L486.76 1032.09L487.04 1035.06L487.32 1033.36L487.60 1034.13L487.88 1032.34L488.16 1032.80L488.44 1034.90L488.72 1035.12L489.00 1035.04L489.28 1032.50L489.56 1034.24L489.84 1032.65L490.12 1031.30L490.40 1033.07L490.68 1034.80L490.96 1032.80L491.24 1034.37L491.52 1032.82L491.80 1033.84L492.08 1030.49L492.36 1032.66L492.64 1034.79L492.92 1032.51L493.20 1034.59L493.48 1031.68L493.76 1035.36L494.04 1031.61L494.32 1030.51L494.60 1031.47L494.88 1033.02L495.16 1032.50L495.44 1034.79L495.72 1034.55L496.00 1031.91L496.28 1031.99L496.56 1030.44L496.84 1032.75L497.12 1033.30L497.40 1031.83L497.68 1032.95L497.96 1036.53L498.24 1034.21L498.52 1033.62L498.80 1032.38L499.08 1035.62L499.36 1032.71L499.64 1032.25L499.92 1032.27L500.20 1033.60L500.48 1033.74L500.76 1035.28L501.04 1032.00L501.32 1023.39L501.60 1002.48L501.88 953.48L502.16 880.54L502.44 810.57L502.70 783.84L502.72 784.00L503.00 799.58L503.28 817.81L503.56 864.52L503.84 921.28L504.12 970.77L504.40 1004.61L504.68 1023.39L504.96 1032.00L505.24 1031.51L505.52 1034.50L505.80 1036.22L506.08 1033.96L506.36 1030.86L506.64 1033.84L506.92 1035.40L507.20 1034.15L507.48 1032.13L507.76 1033.40L508.04 1032.04L508.32 1030.68L508.60 1033.68L508.88 1030.32L509.16 1024.48L509.44 1015.45L509.72 1003.17L510.00 972.39L510.28 928.70L510.56 896.75L510.70 892.14L510.84 896.75L510.90 901.39L511.12 928.70L511.40 968.83L511.68 982.30L511.96 997.12L512.24 1010.56L512.52 1021.03L512.80 1028.17L513.08 1032.49L513.36 1032.97L513.64 1032.61L513.92 1036.42L514.20 1033.72L514.48 1031.98L514.76 1033.01L515.04 1031.10L515.32 1035.92L515.60 1031.71L515.88 1034.93L516.16 1033.50L516.44 1033.95L516.72 1034.03L517.00 1035.24L517.28 1032.43L517.56 1025.61L517.84 1004.35L518.12 935.31L518.40 804.47L518.68 647.95L518.96 561.12L519.00 559.60L519.24 611.51L519.52 751.87L519.60 750.44L519.80 759.25L520.08 797.60L520.36 854.40L520.64 913.73L520.92 963.32L521.20 997.96L521.48 1018.60L521.76 1029.22L522.04 1031.77L522.32 1033.57L522.60 1032.80L522.88 1033.61L523.16 1035.28L523.44 1035.73L523.72 1033.93L524.00 1029.83L524.28 1030.61L524.56 1031.43L524.84 1031.62L525.12 1028.99L525.40 1020.54L525.68 1005.97L525.96 983.64L526.24 953.54L526.52 881.57L526.80 800.60L527.08 747.69L527.20 741.85L527.36 752.15L527.40 757.79L527.64 811.37L527.92 875.20L528.20 908.14L528.48 943.81L528.76 975.77L529.04 1000.42L529.32 1017.09L529.60 1027.08L529.88 1032.42L530.16 1033.42L530.44 1036.06L530.72 1035.55L531.00 1030.48L531.28 1032.93L531.56 1034.36L531.84 1031.76L532.12 1035.39L532.40 1029.79L532.68 1031.74L532.96 1034.81L533.24 1034.47L533.52 1030.49L533.80 1034.02L534.08 1031.66L534.36 1027.92L534.64 1022.57L534.92 1015.08L535.20 995.15L535.48 972.47L535.76 956.84L535.90 954.64L536.04 956.84L536.20 964.28L536.32 972.47L536.60 992.66L536.88 998.84L537.16 1006.61L537.44 1014.58L537.72 1021.67L538.00 1027.26L538.28 1031.22L538.56 1031.69L538.84 1034.80L539.12 1035.43L539.40 1032.32L539.68 1032.25L539.96 1032.65L540.24 1033.03L540.52 1032.71L540.80 1030.52L541.08 1034.10L541.36 1031.69L541.64 1033.87L541.92 1034.19L542.20 1031.79L542.48 1032.40L542.76 1031.20L543.04 1031.52L543.32 1034.96L543.60 1033.46L543.88 1031.56L544.16 1030.31L544.44 1031.06L544.72 1033.64L545.00 1030.11L545.28 1031.74L545.56 1031.13L545.84 1032.10L546.12 1034.84L546.40 1031.57L546.68 1030.68L546.96 1034.23L547.24 1027.50L547.52 1031.41L547.80 1032.46L548.08 1033.43L548.36 1033.62L548.64 1030.72L548.92 1032.92L549.20 1033.38L549.48 1030.18L549.76 1033.52L550.04 1033.40L550.32 1030.14L550.60 1029.76L550.88 1030.82L551.16 1029.69L551.44 1029.23L551.72 1034.47L552.00 1034.21L552.28 1034.42L552.56 1030.62L552.84 1030.12L553.12 1031.03L553.40 1032.44L553.68 1031.09L553.96 1031.77L554.24 1032.19L554.52 1031.92L554.80 1032.21L555.08 1030.32L555.36 1032.41L555.64 1033.31L555.92 1031.85L556.20 1029.16L556.48 1035.08L556.76 1032.25L557.04 1035.34L557.32 1030.27L557.60 1032.11L557.88 1033.55L558.16 1035.19L558.44 1031.81L558.72 1030.32L559.00 1029.91L559.28 1033.38L559.56 1031.77L559.84 1032.33L560.12 1031.28L560.40 1030.98L560.68 1034.22L560.96 1031.07L561.24 1032.81L561.52 1029.32L561.80 1030.87L562.08 1032.31L562.36 1032.10L562.64 1030.66L562.92 1031.18L563.20 1029.99L563.48 1031.41L563.76 1032.57L564.04 1031.26L564.32 1034.15L564.60 1031.96L564.88 1033.83L565.16 1032.20L565.44 1032.02L565.72 1035.08L566.00 1032.07L566.28 1034.19L566.56 1034.18L566.84 1034.81L567.12 1033.00L567.40 1028.07L567.68 1026.94L567.96 1035.58L568.24 1033.30L568.52 1031.68L568.80 1033.95L569.08 1030.27L569.36 1032.36L569.64 1034.38L569.92 1032.13L570.20 1031.26L570.48 1033.17L570.76 1034.79L571.04 1030.61L571.32 1034.25L571.60 1033.67L571.88 1031.65L572.16 1031.94L572.44 1035.72L572.72 1033.09L573.00 1033.08L573.28 1031.93L573.56 1033.45L573.84 1034.42L574.12 1033.82L574.40 1036.40L574.68 1035.59L574.96 1031.26L575.24 1034.36L575.52 1030.37L575.80 1034.58L576.08 1032.45L576.36 1035.09L576.64 1030.97L576.92 1035.74L577.20 1030.91L577.48 1032.52L577.76 1034.02L578.04 1030.31L578.32 1032.66L578.60 1034.63L578.88 1032.55L579.16 1034.36L579.44 1034.58L579.72 1033.05L580.00 1034.05L580.28 1031.77L580.56 1033.51L580.84 1034.50L581.12 1031.87L581.40 1035.07L581.68 1035.90L581.96 1032.44L582.24 1030.46L582.52 1034.96L582.80 1033.71L583.08 1035.19L583.36 1032.38L583.64 1032.57L583.92 1032.96L584.20 1035.10L584.48 1033.03L584.76 1032.29L585.04 1032.13L585.32 1031.24L585.60 1032.64L585.88 1032.71L586.16 1033.21L586.44 1036.09L586.72 1031.40L587.00 1032.03L587.28 1033.12L587.56 1031.31L587.84 1031.93L588.12 1032.15L588.40 1031.59L588.68 1035.16L588.96 1032.44L589.24 1032.03L589.52 1033.23L589.80 1033.93L590.08 1032.51L590.36 1033.58L590.64 1032.74L590.92 1032.96L591.20 1034.96L591.48 1032.29L591.76 1029.06L592.04 1031.74L592.32 1034.62L592.60 1032.48L592.88 1033.39L593.16 1031.31L593.44 1031.88L593.72 1030.31L594.00 1034.11L594.28 1034.87L594.56 1031.59L594.84 1034.44L595.12 1034.53L595.40 1034.74L595.68 1033.04L595.96 1036.04L596.24 1034.13L596.52 1034.21L596.80 1033.49L597.08 1033.81L597.36 1034.60L597.64 1032.73L597.92 1033.76L598.20 1033.05L598.48 1032.03L598.76 1032.23L599.04 1034.03L599.32 1032.12L599.60 1035.36L599.88 1032.02L600.16 1033.64L600.44 1032.98L600.72 1032.29L601.00 1030.92L601.28 1033.37L601.56 1035.16L601.84 1034.85L602.12 1033.43L602.40 1031.79L602.68 1035.82L602.96 1033.59L603.24 1031.35L603.52 1035.39L603.80 1036.32L604.08 1032.31L604.36 1024.80L604.64 1031.23L604.92 1032.78L605.20 1034.66L605.48 1035.16L605.76 1035.77L606.04 1032.65L606.32 1032.04L606.60 1029.65L606.88 1030.72L607.16 1035.18L607.44 1034.60L607.72 1032.93L608.00 1035.51L608.28 1032.20L608.56 1031.13L608.84 1033.26L609.12 1033.31L609.40 1035.64L609.68 1035.52L609.96 1031.97L610.24 1032.35L610.52 1030.58L610.80 1034.51L611.08 1033.26L611.36 1031.62L611.64 1033.13L611.92 1029.76L612.20 1030.45L612.48 1033.23L612.76 1035.39L613.04 1031.36L613.32 1035.41L613.60 1028.54L613.88 1033.23L614.16 1031.83L614.44 1033.33L614.72 1034.33L615.00 1032.26L615.28 1033.14L615.56 1033.94L615.84 1034.56L616.12 1034.20L616.40 1033.14L616.68 1035.32L616.96 1032.47L617.24 1031.76L617.52 1031.40L617.80 1032.84L618.08 1029.37L618.36 1035.66L618.64 1031.20L618.92 1035.50L619.20 1034.17L619.48 1035.92L619.76 1030.68L620.04 1030.88L620.32 1033.17L620.60 1032.62L620.88 1031.61L621.16 1030.60L621.44 1035.00L621.72 1034.47L622.00 1031.56L622.28 1035.92L622.56 1035.73L622.84 1034.56L623.12 1035.84L623.40 1031.69L623.68 1034.91L623.96 1032.29L624.24 1035.11L624.52 1033.09L624.80 1034.31L625.08 1034.57L625.36 1028.79L625.64 1032.64L625.92 1035.16L626.20 1034.43L626.48 1034.37L626.76 1032.14L627.04 1034.52L627.32 1035.40L627.60 1035.62L627.88 1033.78L628.16 1030.99L628.44 1032.68L628.72 1033.38L629.00 1032.47L629.28 1032.72L629.56 1034.90L629.84 1032.97L630.12 1028.98L630.40 1033.43L630.68 1031.30L630.96 1031.59L631.24 1033.06L631.52 1035.84L631.80 1034.63L632.08 1031.61L632.36 1033.54L632.64 1034.19L632.92 1031.92L633.20 1027.52L633.48 1034.05L633.76 1036.20L634.04 1035.48L634.32 1033.46L634.60 1034.61L634.88 1035.58L635.16 1031.82L635.44 1035.92L635.72 1033.16L636.00 1025.71L636.28 1035.61L636.56 1031.22L636.84 1032.55L637.12 1028.44L637.40 1033.58L637.68 1034.53L637.96 1031.25L638.24 1035.31L638.52 1030.52L638.80 1030.84L639.08 1033.43L639.36 1034.12L639.64 1035.50L639.92 1032.61L640.20 1034.01L640.48 1032.68L640.76 1031.03L641.04 1035.76L641.32 1033.00L641.60 1031.64L641.88 1033.60L642.16 1035.32L642.44 1032.98L642.72 1033.87L643.00 1032.43L643.28 1032.44L643.56 1032.57L643.84 1031.71L644.12 1034.95L644.40 1032.32L644.68 1034.91L644.96 1031.37L645.24 1026.87L645.52 1035.76L645.80 1028.37L646.08 1035.18L646.36 1034.01L646.64 1034.01L646.92 1031.56L647.20 1032.01L647.48 1031.81L647.76 1034.28L648.04 1031.62L648.32 1032.61L648.60 1033.54L648.88 1032.96L649.16 1032.61L649.44 1035.93L649.72 1033.90L650.00 1035.22L650.28 1032.13L650.56 1035.79L650.84 1032.31L651.12 1034.91L651.40 1034.56L651.68 1030.77L651.96 1033.36L652.24 1034.74L652.52 1031.52L652.80 1035.20L653.08 1033.96L653.36 1035.46L653.64 1031.85L653.92 1033.14L654.20 1035.03L654.48 1027.36L654.76 1033.80L655.04 1033.95L655.32 1032.11L655.60 1033.75L655.88 1033.61L656.16 1036.05L656.44 1033.14L656.72 1034.87L657.00 1035.95L657.28 1028.54L657.56 1035.18L657.84 1031.67L658.12 1032.71L658.40 1034.87L658.68 1033.64L658.96 1032.89L659.24 1032.87L659.52 1031.60L659.80 1031.96L660.08 1034.42L660.36 1035.34L660.64 1028.43L660.92 1035.54L661.20 1032.24L661.48 1032.06L661.76 1035.60L662.04 1031.45L662.32 1035.38L662.60 1035.98L662.88 1032.60L663.16 1035.41L663.44 1032.23L663.72 1029.54L664.00 1036.21L664.28 1035.25L664.56 1035.18L664.84 1032.71L665.12 1031.38L665.40 1031.76L665.68 1033.43L665.96 1031.76L666.24 1033.87L666.52 1035.51L666.80 1031.32L667.08 1031.78L667.36 1033.80L667.64 1031.58L667.92 1034.73L668.20 1033.43L668.48 1035.86L668.76 1032.49L669.04 1033.43L669.32 1035.86L669.60 1031.16L669.88 1033.34L670.16 1032.82L670.44 1032.80L670.72 1034.08L671.00 1030.27L671.28 1035.99L671.56 1035.23L671.84 1033.77L672.12 1031.89L672.40 1032.43L672.68 1035.10L672.96 1032.02L673.24 1033.96L673.52 1032.92L673.80 1032.95L674.08 1033.61L674.36 1033.85L674.64 1033.14L674.92 1032.80L675.20 1036.10L675.48 1032.84L675.76 1035.24L676.04 1035.10L676.32 1035.07L676.60 1035.94L676.88 1032.08L677.16 1032.83L677.44 1035.01L677.72 1032.96L678.00 1035.67L678.28 1032.40L678.56 1035.96L678.84 1031.94L679.12 1032.78L679.40 1026.47L679.68 1032.60L679.96 1033.29L680.24 1033.05L680.52 1033.47L680.80 1033.76L681.08 1033.85L681.36 1031.68L681.64 1034.38L681.92 1034.32L682.20 1036.39L682.48 1029.50L682.76 1034.61L683.04 1032.04L683.32 1034.58L683.60 1033.40L683.88 1034.59L684.16 1033.53L684.44 1028.47L684.72 1029.49L685.00 1033.56L685.28 1035.15L685.56 1032.25L685.84 1036.34L686.12 1034.98L686.40 1036.06L686.68 1031.40L686.96 1029.54L687.24 1034.95L687.52 1035.93L687.80 1032.47L688.08 1034.27L688.36 1028.39L688.64 1030.65L688.92 1032.01L689.20 1036.04L689.48 1034.73L689.76 1033.96L690.04 1034.18L690.32 1030.74L690.60 1029.66L690.88 1034.05L691.16 1030.32L691.44 1032.99L691.72 1033.22L692.00 1035.94L692.28 1032.40L692.56 1032.91L692.84 1030.96L693.12 1033.12L693.40 1034.13L693.68 1033.54L693.96 1029.73L694.24 1031.30L694.52 1030.59L694.80 1033.82L695.08 1032.31L695.36 1034.97L695.64 1035.55L695.92 1032.90L696.20 1031.97L696.48 1035.12L696.76 1033.61L697.04 1028.14L697.32 1033.98L697.60 1035.08L697.88 1036.20L698.16 1034.04L698.44 1035.93L698.72 1034.44L699.00 1033.22L699.28 1033.61L699.56 1034.75L699.84 1032.33L700.12 1029.62L700.40 1034.96L700.68 1033.12L700.96 1034.65L701.24 1033.98L701.52 1031.73L701.80 1034.35L702.08 1034.86L702.36 1031.00L702.64 1030.48L702.92 1036.12L703.20 1032.17L703.48 1030.90L703.76 1032.63L704.04 1030.93L704.32 1031.60L704.60 1031.77L704.88 1035.46L705.16 1035.69L705.44 1035.82L705.72 1032.54L706.00 1033.64L706.28 1031.33L706.56 1035.57L706.84 1034.77L707.12 1030.82L707.40 1030.42L707.68 1032.30L707.96 1032.10L708.24 1033.96L708.52 1034.93L708.80 1034.52L709.08 1032.73L709.36 1034.41L709.64 1033.22L709.92 1034.19L710.20 1033.59L710.48 1033.20L710.76 1032.67L711.04 1036.48L711.32 1032.61L711.60 1034.13L711.88 1036.32L712.16 1032.38L712.44 1035.03L712.72 1033.62L713.00 1031.85L713.28 1032.46L713.56 1027.20L713.84 1033.73L714.12 1033.73L714.40 1034.62L714.68 1030.18L714.96 1032.45L715.24 1035.50L715.52 1032.23L715.80 1031.30L716.08 1032.32L716.36 1031.99L716.64 1032.15L716.92 1031.30L717.20 1032.93L717.48 1035.32L717.76 1034.83L718.04 1034.79L718.32 1034.04L718.60 1031.86L718.88 1031.85L719.16 1029.93L719.44 1035.55L719.72 1036.21L720.00 1035.04L720.28 1031.99L720.56 1034.81L720.84 1031.17L721.12 1033.64L721.40 1031.08L721.68 1031.38L721.96 1031.62L722.24 1032.19L722.52 1032.87L722.80 1033.12L723.08 1034.15L723.36 1032.00L723.64 1033.02L723.92 1035.79L724.20 1031.38L724.48 1030.90L724.76 1028.34L725.04 1033.61L725.32 1031.66L725.60 1032.47L725.88 1033.77L726.16 1034.66L726.44 1035.22L726.72 1033.33L727.00 1032.61L727.28 1031.28L727.56 1030.78L727.84 1035.04L728.12 1035.37L728.40 1034.34L728.68 1027.46L728.96 1034.70L729.24 1034.73L729.52 1034.34L729.80 1034.12L730.08 1029.93L730.36 1023.74L730.64 1018.57L730.80 1017.62L730.92 1018.16L731.20 1022.84L731.48 1029.13L731.76 1032.50L732.04 1033.34L732.32 1032.40L732.60 1030.06L732.88 1029.99L733.16 1029.18L733.44 1033.13L733.72 1030.64L734.00 1032.13L734.28 1035.45L734.56 1034.40L734.84 1033.01L735.12 1036.43L735.40 1034.93L735.68 1035.26L735.96 1036.38L736.24 1034.21L736.52 1034.29L736.80 1035.08L737.08 1033.93L737.36 1033.95L737.64 1028.32L737.92 1032.04L738.20 1027.15L738.48 1022.41L738.70 1020.96L738.76 1021.07L739.04 1024.21L739.32 1029.40L739.60 1033.58L739.88 1035.42L740.16 1032.75L740.44 1032.79L740.72 1031.27L741.00 1033.71L741.28 1032.72L741.56 1032.75L741.84 1033.26L742.12 1031.72L742.40 1032.44L742.68 1036.29L742.96 1026.78L743.24 1029.04L743.52 1032.27L743.80 1031.50L744.08 1030.14L744.36 1032.49L744.64 1033.71L744.92 1035.98L745.20 1032.25L745.48 1036.01L745.76 1030.01L746.04 1035.00L746.32 1033.79L746.60 1032.85L746.88 1034.04L747.16 1031.33L747.44 1031.76L747.72 1029.85L748.00 1029.07L748.28 1029.85L748.56 1029.98L748.84 1033.84L749.12 1035.36L749.40 1034.50L749.68 1035.52L749.96 1033.25L750.24 1032.48L750.52 1031.78L750.80 1035.85L751.08 1032.68L751.36 1032.40L751.64 1024.36L751.92 1034.96L752.20 1032.42L752.48 1033.62L752.76 1032.04L753.04 1034.37L753.32 1032.10L753.60 1032.72L753.88 1032.57L754.16 1033.34L754.44 1031.42L754.72 1033.86L755.00 1032.65L755.28 1034.53L755.56 1034.35L755.84 1032.87L756.12 1034.45L756.40 1035.16L756.68 1034.25L756.96 1032.66L757.24 1035.25L757.52 1034.79L757.80 1031.26L758.08 1034.91L758.36 1035.66L758.64 1035.99L758.92 1030.95L759.20 1033.50L759.48 1035.89L759.76 1033.48L760.04 1035.28L760.32 1032.25L760.60 1033.85L760.88 1035.26L761.16 1032.05L761.44 1034.67L761.72 1035.94L762.00 1032.23L762.28 1034.10L762.56 1033.50L762.84 1032.86L763.12 1032.08L763.40 1032.51L763.68 1033.89L763.96 1032.99L764.24 1032.98L764.52 1034.40L764.80 1031.53L765.08 1029.24L765.36 1032.64L765.64 1034.42L765.92 1031.84L766.20 1029.47L766.48 1032.82L766.76 1032.89L767.04 1033.44L767.32 1033.20L767.60 1036.14L767.88 1034.26L768.16 1035.14L768.44 1030.42L768.72 1034.02L769.00 1033.19L769.28 1031.91L769.56 1032.99L769.84 1033.03L770.12 1033.72L770.40 1032.66L770.68 1033.97L770.96 1034.60L771.24 1036.17L771.52 1035.93L771.80 1036.48L772.08 1034.32L772.36 1033.36L772.64 1032.08L772.92 1035.56L773.20 1036.26L773.48 1033.98L773.76 1032.29L774.04 1034.00L774.32 1036.03L774.60 1032.53L774.88 1030.33L775.16 1034.15L775.44 1033.53L775.72 1036.23L776.00 1030.65L776.28 1031.42L776.56 1033.58L776.84 1026.11L777.12 1032.87L777.40 1034.76L777.68 1035.82L777.96 1034.76L778.24 1034.91L778.52 1033.28L778.80 1033.38L779.08 1034.80L779.36 1035.83L779.64 1034.52L779.92 1033.09L780.20 1032.79L780.48 1032.87L780.76 1031.76L781.04 1034.37L781.32 1031.69L781.60 1030.91L781.88 1033.96L782.16 1034.17L782.44 1030.38L782.72 1033.69L783.00 1034.19L783.28 1033.11L783.56 1033.47L783.84 1030.48L784.12 1035.24L784.40 1027.54L784.68 1034.76L784.96 1034.79L785.24 1036.07L785.52 1031.12L785.80 1031.25L786.08 1031.90L786.36 1033.52L786.64 1034.46L786.92 1031.51L787.20 1035.01L787.48 1033.71L787.76 1035.20L788.04 1033.01L788.32 1031.46L788.60 1032.74L788.88 1032.09L789.16 1034.32L789.44 1031.88L789.72 1033.80L790.00 1032.41L790.28 1032.13L790.56 1031.10L790.84 1035.51L791.12 1032.30L791.40 1034.55L791.68 1031.47L791.96 1035.07L792.24 1035.41L792.52 1035.89L792.80 1034.23L793.08 1035.55L793.36 1033.92L793.64 1034.43L793.92 1034.17L794.20 1033.88L794.48 1033.72L794.76 1035.65L795.04 1033.63L795.32 1033.63L795.60 1030.86L795.88 1032.12L796.16 1036.42L796.44 1036.25L796.72 1033.24L797.00 1030.88L797.28 1032.27L797.56 1033.69L797.84 1034.46L798.12 1032.98L798.40 1034.32L798.68 1032.49L798.96 1032.51L799.24 1036.30L799.52 1032.46L799.80 1035.64L800.08 1028.89L800.36 1035.07L800.64 1035.22L800.92 1034.14L801.20 1029.86L801.48 1034.32L801.76 1033.32L802.04 1035.97L802.32 1026.05L802.60 1035.11L802.88 1031.96L803.16 1035.07L803.44 1035.61L803.72 1036.18L804.00 1036.20L804.28 1032.01L804.56 1032.65L804.84 1033.34L805.12 1031.35L805.40 1033.22L805.68 1035.68L805.96 1035.48L806.24 1027.07L806.52 1031.98L806.80 1035.26L807.08 1031.99L807.36 1028.69L807.64 1036.53L807.92 1036.06L808.20 1035.45L808.48 1032.24L808.76 1032.05L809.04 1036.32L809.32 1035.28L809.60 1028.37L809.88 1029.26L810.16 1033.99L810.44 1030.35L810.72 1033.95L811.00 1035.22L811.28 1034.52L811.56 1035.14L811.84 1035.76L812.12 1032.38L812.40 1031.88L812.68 1033.45L812.96 1031.78L813.24 1033.12L813.52 1036.44L813.80 1030.97L814.08 1035.57L814.36 1036.25L814.64 1034.09L814.92 1031.21L815.20 1032.73L815.48 1032.25L815.76 1035.47L816.04 1036.04L816.32 1033.99L816.60 1030.70L816.88 1032.32L817.16 1035.67L817.44 1035.16L817.72 1031.70L818.00 1035.46L818.28 1031.78L818.56 1033.95L818.84 1031.28L819.12 1033.36L819.40 1033.55L819.68 1034.80L819.96 1034.82L820.24 1032.62L820.52 1034.78L820.80 1030.42L821.08 1035.39L821.36 1036.14L821.64 1029.33L821.92 1032.94L822.20 1032.48L822.48 1033.75L822.76 1032.19L823.04 1034.29L823.32 1030.65L823.60 1035.25L823.88 1036.24L824.16 1032.72L824.44 1031.69L824.72 1030.03L825.00 1033.95L825.28 1033.59L825.56 1032.86L825.84 1033.10L826.12 1033.92L826.40 1035.04L826.68 1034.70L826.96 1033.98L827.24 1032.58L827.52 1034.95L827.80 1032.43L828.08 1035.57L828.36 1033.68L828.64 1031.86L828.92 1036.12L829.20 1034.26L829.48 1032.75L829.76 1033.50L830.04 1034.76L830.32 1034.21L830.60 1032.87L830.88 1033.96L831.16 1034.14L831.44 1034.30L831.72 1030.25L832.00 1035.76L832.28 1032.85L832.56 1033.73L832.84 1033.51L833.12 1030.90L833.40 1034.53L833.68 1032.78L833.96 1033.52L834.24 1035.69L834.52 1033.11L834.80 1032.45L835.08 1033.39L835.36 1032.51L835.64 1031.79L835.92 1031.81L836.20 1034.18L836.48 1032.08L836.76 1032.51L837.04 1034.10L837.32 1032.89L837.60 1032.79L837.88 1032.62L838.16 1033.86L838.44 1035.82L838.72 1032.85L839.00 1033.09L839.28 1031.60L839.56 1031.79L839.84 1034.10L840.12 1034.21L840.40 1031.13L840.68 1032.11L840.96 1035.97L841.24 1032.04L841.52 1033.05L841.80 1030.35L842.08 1034.78L842.36 1032.52L842.64 1032.16L842.92 1032.31L843.20 1034.57L843.48 1035.15L843.76 1033.13L844.04 1035.68L844.32 1033.18L844.60 1031.89L844.88 1033.95L845.16 1034.72L845.44 1032.79L845.72 1034.18L846.00 1035.30L846.28 1032.87L846.56 1033.35L846.84 1030.75L847.12 1033.98L847.40 1033.53L847.68 1032.50L847.96 1029.13L848.24 1032.81L848.52 1034.99L848.80 1035.89L849.08 1034.03L849.36 1034.09L849.64 1033.59L849.92 1030.61L850.20 1035.15L850.48 1034.56L850.76 1033.56L851.04 1026.86L851.32 1034.67L851.60 1035.20L851.88 1031.87L852.16 1033.09L852.44 1033.95L852.72 1033.61L853.00 1032.26L853.28 1033.61L853.56 1035.02L853.84 1035.29L854.12 1031.32L854.40 1031.73L854.68 1030.68L854.96 1034.17L855.24 1032.21L855.52 1035.06L855.80 1032.18L856.08 1033.60L856.36 1035.14L856.64 1033.54L856.92 1032.55L857.20 1030.52L857.48 1034.11L857.76 1032.74L858.04 1035.36L858.32 1032.78L858.60 1032.31L858.88 1032.95L859.16 1034.81L859.44 1033.83L859.72 1033.03L860.00 1030.47L860.28 1033.14L860.56 1033.07L860.84 1033.92L861.12 1032.96L861.40 1035.42L861.68 1032.42L861.96 1032.71L862.24 1033.75L862.52 1031.85L862.80 1031.13L863.08 1034.68L863.36 1031.05L863.64 1034.88L863.92 1032.61L864.20 1032.33L864.48 1032.67L864.76 1030.33L865.04 1032.91L865.32 1035.05L865.60 1035.28L865.88 1033.76L866.16 1035.59L866.44 1034.98L866.72 1033.33L867.00 1036.03L867.28 1031.15L867.56 1028.45L867.84 1032.49L868.12 1032.74L868.40 1034.03L868.68 1032.96L868.96 1034.58L869.24 1032.69L869.52 1035.25L869.80 1033.63L870.08 1032.72L870.36 1032.83L870.64 1033.12L870.92 1031.86L871.20 1032.91L871.48 1034.04L871.76 1030.77L872.04 1032.39L872.32 1036.08L872.60 1032.98L872.88 1035.35L873.16 1035.41L873.44 1034.07L873.72 1033.64L874.00 1035.01L874.28 1030.74L874.56 1030.56L874.84 1034.28L875.12 1033.57L875.40 1032.94L875.68 1034.07L875.96 1033.41L876.24 1035.93L876.52 1034.91L876.80 1035.71L877.08 1033.78L877.36 1033.71L877.64 1026.97L877.92 1033.06L878.20 1031.96L878.48 1033.51L878.76 1030.44L879.04 1031.74L879.32 1031.22L879.60 1034.95L879.88 1027.98L880.16 1035.26L880.44 1031.98L880.72 1032.79L881.00 1034.48L881.28 1034.46L881.56 1032.41L881.84 1035.58L882.12 1035.97L882.40 1033.88L882.68 1034.20L882.96 1032.77L883.24 1033.55L883.52 1034.18L883.80 1031.78L884.08 1034.05L884.36 1034.04L884.64 1034.19L884.92 1032.89L885.20 1032.90L885.48 1030.65L885.76 1031.01L886.04 1033.41L886.32 1031.85L886.60 1032.59L886.88 1035.01L887.16 1033.63L887.44 1035.75L887.72 1030.21L888.00 1034.82L888.28 1027.95L888.56 1030.88L888.84 1032.78L889.12 1032.10L889.40 1031.79L889.68 1032.63L889.96 1033.30L890.24 1032.50L890.52 1034.49L890.80 1033.39L891.08 1034.30L891.36 1033.10L891.64 1031.15L891.92 1035.70L892.20 1031.95L892.48 1034.31L892.76 1034.54L893.04 1029.97L893.32 1031.70L893.60 1035.13L893.88 1034.80L894.16 1031.87L894.44 1032.45L894.72 1034.53L895.00 1031.76L895.28 1028.74L895.56 1035.96L895.84 1034.46L896.12 1035.18L896.40 1029.84L896.68 1035.55L896.96 1032.53L897.24 1032.47L897.52 1036.04L897.80 1035.45L898.08 1034.83L898.36 1035.73L898.64 1032.99L898.92 1035.29L899.20 1032.61L899.48 1030.36L899.76 1035.36L900.04 1032.86L900.32 1028.19L900.60 1035.68L900.88 1035.83L901.16 1033.49L901.44 1032.39L901.72 1034.46L902.00 1034.52L902.28 1034.94L902.56 1034.33L902.84 1035.70L903.12 1034.37L903.40 1034.70L903.68 1034.57L903.96 1034.46L904.24 1033.88L904.52 1033.27L904.80 1035.69L905.08 1035.14L905.36 1028.64L905.64 1034.74L905.92 1032.93L906.20 1035.20L906.48 1032.05L906.76 1034.09L907.04 1033.33L907.32 1034.05L907.60 1028.82L907.88 1033.22L908.16 1032.59L908.44 1034.86L908.72 1033.99L909.00 1032.00L909.28 1033.38L909.56 1031.93L909.84 1033.92L910.12 1031.40L910.40 1031.73L910.68 1031.50L910.96 1032.52L911.24 1029.25L911.52 1034.32L911.80 1031.74L912.08 1034.69L912.36 1031.80L912.64 1033.10L912.92 1032.45L913.20 1031.70L913.48 1031.93L913.76 1031.83L914.04 1035.61L914.32 1032.49L914.60 1031.33L914.88 1032.03L915.16 1031.15L915.44 1034.61L915.72 1033.46L916.00 1033.15L916.28 1035.13L916.56 1034.38L916.84 1034.71L917.12 1032.09L917.40 1034.43L917.68 1033.43L917.96 1033.74L918.24 1034.16L918.52 1035.39L918.80 1033.13L919.08 1035.66L919.36 1034.89L919.64 1033.69L919.92 1032.07L920.20 1031.37L920.48 1032.42L920.76 1032.15L921.04 1035.53L921.32 1033.51L921.60 1029.50L921.88 1027.10L922.16 1034.27L922.44 1032.64L922.72 1032.74L923.00 1033.58L923.28 1030.19L923.56 1033.27L923.84 1032.94L924.12 1030.88L924.40 1034.37L924.68 1032.46L924.96 1032.31L925.24 1030.61L925.52 1032.47L925.80 1029.34L926.08 1032.73L926.36 1032.55L926.64 1034.11L926.92 1030.72L927.20 1034.21L927.48 1030.59L927.76 1032.51L928.04 1030.49L928.32 1032.82L928.60 1033.45L928.88 1033.35L929.16 1031.67L929.44 1028.93L929.72 1034.93L930.00 1032.25L930.28 1034.14L930.56 1028.97L930.84 1035.18L931.12 1031.99L931.40 1031.85L931.68 1030.67L931.96 1029.38L932.24 1029.12L932.52 1034.67L932.80 1033.31L933.08 1033.47L933.36 1033.21L933.64 1029.94L933.92 1029.29L934.20 1028.20L934.30 1028.11L934.48 1028.39L934.76 1029.78L935.04 1031.79L935.32 1030.55L935.60 1033.12L935.88 1032.56L936.16 1033.87L936.44 1033.35L936.72 1027.69L937.00 1031.26L937.28 1033.68L937.56 1034.27L937.84 1033.21L938.12 1032.63L938.40 1034.22L938.68 1032.42L938.96 1030.47L939.24 1031.85L939.52 1031.44L939.80 1034.35L940.08 1033.14L940.36 1032.61L940.64 1032.33L940.92 1032.55L941.20 1032.13L941.48 1033.21L941.76 1032.86L942.04 1029.18L942.32 1029.59L942.60 1027.56L942.88 1026.68L942.90 1026.68L943.16 1027.35L943.44 1029.26L943.72 1031.66L944.00 1030.93L944.28 1031.34L944.56 1029.78L944.84 1034.41L945.12 1032.01L945.40 1034.28L945.68 1027.11L945.96 1032.21L946.24 1031.02L946.52 1029.46L946.80 1028.64L947.08 1030.60L947.36 1032.72L947.64 1032.45L947.92 1033.60L948.20 1031.58L948.48 1030.97L948.76 1032.20L949.04 1031.28L949.32 1031.62L949.60 1032.77L949.88 1031.36L950.16 1034.04L950.44 1028.97L950.72 1030.45L951.00 1028.19L951.28 1026.83L951.40 1026.68L951.56 1026.94L951.84 1028.48L952.12 1028.97L952.40 1032.39L952.68 1027.39L952.96 1028.50L953.24 1028.12L953.52 1031.53L953.80 1029.81L954.08 1030.32L954.36 1035.79L954.64 1029.00L954.92 1023.94L955.20 1032.98L955.48 1027.60L955.76 1029.16L956.04 1031.29L956.32 1032.86L956.60 1033.48L956.88 1034.74L957.16 1030.95L957.44 1030.55L957.72 1028.07L958.00 1023.61L958.28 1015.98L958.56 998.81L958.84 960.53L959.12 913.44L959.40 882.78L959.50 880.21L959.68 888.37L959.80 901.84L959.96 913.24L960.00 914.62L960.24 928.43L960.52 952.69L960.80 979.03L961.08 1001.68L961.36 1009.09L961.64 1016.07L961.92 1022.11L962.20 1026.92L962.48 1030.50L962.76 1030.69L963.04 1034.58L963.32 1032.27L963.60 1032.06L963.88 1030.38L964.16 1032.34L964.44 1033.61L964.72 1029.52L965.00 1032.16L965.28 1029.92L965.56 1029.44L965.84 1030.24L966.12 1025.64L966.40 1019.20L966.68 1011.09L966.96 993.28L967.24 961.03L967.52 934.95L967.70 929.35L967.80 931.11L967.90 936.22L968.08 952.15L968.36 984.45L968.64 995.70L968.92 1004.65L969.20 1013.54L969.48 1021.23L969.76 1027.14L970.04 1031.24L970.32 1031.62L970.60 1032.94L970.88 1033.94L971.16 1033.05L971.44 1030.86L971.72 1031.16L972.00 1030.63L972.28 1035.45L972.56 1030.88L972.84 1031.23L973.12 1032.23L973.40 1032.46L973.68 1032.92L973.96 1032.14L974.24 1033.92L974.52 1030.42L974.80 1026.73L975.08 1020.40L975.36 1013.99L975.64 1009.74L975.80 1009.03L975.92 1009.43L976.20 1013.20L976.48 1019.44L976.76 1025.90L977.04 1029.65L977.32 1033.54L977.60 1034.89L977.88 1033.82L978.16 1032.91L978.44 1029.33L978.72 1030.93L979.00 1032.93L979.28 1031.90L979.56 1029.33L979.84 1031.42L980.12 1029.64L980.40 1033.61L980.68 1029.73L980.96 1029.25L981.24 1034.42L981.52 1032.30L981.80 1032.13L982.08 1034.97L982.36 1031.69L982.64 1030.61L982.92 1033.22L983.20 1034.18L983.48 1034.21L983.76 1030.66L984.04 1031.80L984.32 1031.10L984.60 1030.65L984.88 1030.83L985.16 1034.99L985.44 1033.67L985.72 1032.45L986.00 1031.91L986.28 1032.20L986.56 1030.55L986.84 1029.29L987.12 1028.81L987.40 1030.54L987.68 1033.67L987.96 1031.41L988.24 1032.34L988.52 1032.55L988.80 1034.52L989.08 1031.61L989.36 1032.36L989.64 1028.66L989.92 1031.31L990.20 1033.46L990.48 1033.01L990.76 1034.25L991.04 1036.03L991.32 1033.34L991.60 1027.97L991.88 1033.12L992.16 1033.71L992.44 1034.76L992.72 1035.69L993.00 1031.65L993.28 1028.51L993.56 1033.98L993.84 1031.40L994.12 1030.83L994.40 1035.72L994.68 1032.82L994.96 1032.37L995.24 1034.40L995.52 1031.60L995.80 1031.73L996.08 1035.86L996.36 1036.44L996.64 1031.98L996.92 1032.72L997.20 1034.27L997.48 1029.67L997.76 1031.87L998.04 1034.24L998.32 1031.99L998.60 1032.80L998.88 1034.31L999.16 1032.11L999.44 1035.93L999.72 1033.79L1000.00 1032.80L1000.28 1031.65L1000.56 1033.23L1000.84 1035.42L1001.12 1033.87L1001.40 1030.07L1001.68 1032.70L1001.96 1035.27L1002.24 1034.19L1002.52 1034.18L1002.80 1035.46L1003.08 1034.90L1003.36 1034.52L1003.64 1035.82L1003.92 1033.47L1004.20 1031.92L1004.48 1034.50L1004.76 1033.32L1005.04 1031.71L1005.32 1034.32L1005.60 1035.26L1005.88 1033.29L1006.16 1033.01L1006.44 1034.56L1006.72 1034.08L1007.00 1032.76L1007.28 1033.02L1007.56 1032.14L1007.84 1033.57L1008.12 1035.01L1008.40 1035.04L1008.68 1034.49L1008.96 1035.40L1009.24 1032.81L1009.52 1031.21L1009.80 1036.18L1010.08 1029.97L1010.36 1035.09L1010.64 1032.00L1010.92 1034.25L1011.20 1035.82L1011.48 1031.58L1011.76 1031.27L1012.04 1031.37L1012.32 1032.78L1012.60 1032.82L1012.88 1032.19L1013.16 1029.83L1013.44 1033.46L1013.72 1035.62L1014.00 1036.38L1014.28 1033.15L1014.56 1033.09L1014.84 1033.49L1015.12 1029.31L1015.40 1032.03L1015.68 1033.38L1015.96 1031.29L1016.24 1029.33L1016.52 1030.78L1016.80 1032.33L1017.08 1034.21L1017.36 1033.74L1017.64 1034.10L1017.92 1031.80L1018.20 1031.96L1018.48 1031.33L1018.76 1034.09L1019.04 1032.62L1019.32 1033.58L1019.60 1032.63L1019.88 1033.50L1020.16 1034.28L1020.44 1034.26L1020.72 1032.24L1021.00 1034.71L1021.28 1035.03L1021.56 1032.70L1021.84 1033.38L1022.12 1034.93L1022.40 1033.42L1022.68 1028.32L1022.96 1033.43L1023.24 1033.64L1023.52 1033.08L1023.80 1034.03L1024.08 1032.52L1024.36 1031.23L1024.64 1031.86L1024.92 1032.46L1025.20 1033.67L1025.48 1032.58L1025.76 1032.35" fill="none" stroke="#e0262e" stroke-width="1" stroke-linejoin="round"/>
<text x="459.5" y="522.4" font-size="18.5" font-weight="bold" fill="#111" textLength="152.8" lengthAdjust="spacingAndGlyphs">y<tspan font-size="13" dy="5.3">12</tspan><tspan dy="-5.3">, m/z = 1242.75</tspan></text>
<text x="107.8" y="779.2" font-size="18.5" font-weight="bold" fill="#111" textLength="158.7" lengthAdjust="spacingAndGlyphs">w<tspan font-size="13" dy="5.3">12</tspan><tspan dy="-5.3">, m/z = 1199.69</tspan></text>
<text x="886.2" y="836.7" font-size="18.5" font-weight="bold" fill="#111" textLength="158.3" lengthAdjust="spacingAndGlyphs">w<tspan font-size="13" dy="5.3">13</tspan><tspan dy="-5.3">, m/z = 1296.79</tspan></text>
<text x="485" y="548.9" font-size="18.5" fill="#da2230" textLength="99.0" lengthAdjust="spacingAndGlyphs">Res = 10734</text>
<text x="135.3" y="805.3" font-size="18.5" fill="#da2230" textLength="99.0" lengthAdjust="spacingAndGlyphs">Res = 10632</text>
<text x="913.7" y="863.6" font-size="18.5" fill="#da2230" textLength="99.0" lengthAdjust="spacingAndGlyphs">Res = 10054</text>
<line x1="19.4" y1="470.5" x2="1057.4" y2="470.5" stroke="#d8121c" stroke-width="3.2" stroke-dasharray="9.4 3.82" stroke-dashoffset="11.92"/>
<line x1="21" y1="468.9" x2="21" y2="1057.7" stroke="#d8121c" stroke-width="3.2" stroke-dasharray="9.4 3.82" stroke-dashoffset="5.02"/>
<line x1="1055.7" y1="468.9" x2="1055.7" y2="1057.7" stroke="#d8121c" stroke-width="3.2" stroke-dasharray="9.4 3.79" stroke-dashoffset="1.32"/>
<line x1="19.4" y1="1056.2" x2="1057.4" y2="1056.2" stroke="#d8121c" stroke-width="3.2" stroke-dasharray="9.4 3.82" stroke-dashoffset="9.32"/>
</svg></body></html>
